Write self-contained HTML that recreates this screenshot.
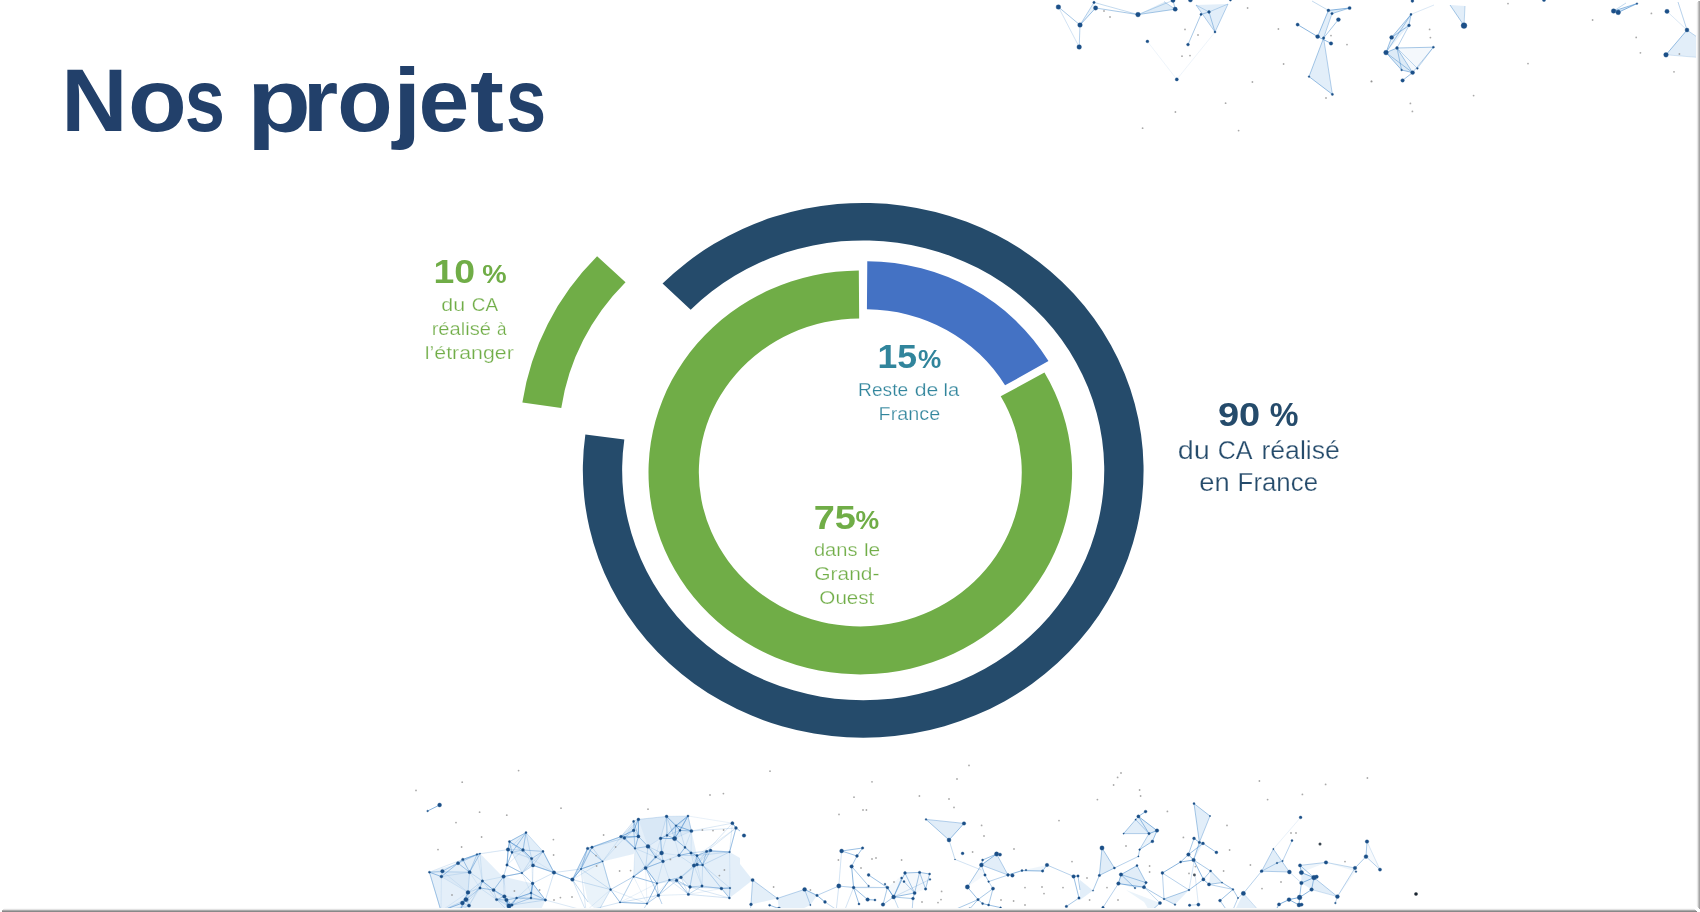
<!DOCTYPE html>
<html lang="fr"><head><meta charset="utf-8"><title>Nos projets</title>
<style>
html,body{margin:0;padding:0;background:#fff;}
body{width:1700px;height:912px;overflow:hidden;position:relative;font-family:"Liberation Sans",sans-serif;}
svg{position:absolute;left:0;top:0;display:block;will-change:transform;}
svg text{font-family:"Liberation Sans",sans-serif;}
</style></head>
<body>
<svg width="1700" height="912" viewBox="0 0 1700 912">
<rect width="1700" height="912" fill="#fff"/>
<g id="plexus">
<polygon points="1138.0,14.6 1175.2,9.2 1164.0,2.0" fill="#8FBDE6" fill-opacity="0.30"/>
<polygon points="1196.0,5.0 1228.0,4.0 1215.0,32.0" fill="#8FBDE6" fill-opacity="0.26"/>
<polygon points="1323.6,38.0 1309.0,76.6 1332.4,94.4" fill="#8FBDE6" fill-opacity="0.26"/>
<polygon points="1317.6,36.6 1328.4,10.4 1332.0,13.6 1323.6,38.0" fill="#8FBDE6" fill-opacity="0.26"/>
<polygon points="1080.0,25.0 1095.6,8.0 1094.0,2.4" fill="#8FBDE6" fill-opacity="0.17"/>
<polygon points="1328.4,10.4 1349.6,8.0 1332.0,13.6" fill="#8FBDE6" fill-opacity="0.30"/>
<path d="M1147.4 41.4L1176.8 79.4M1215.0 32.0L1176.8 79.4" stroke="#3F86C9" stroke-opacity="0.1" stroke-width="0.9" fill="none"/>
<path d="M1058.4 7.0L1079.2 47.0" stroke="#3F86C9" stroke-opacity="0.26" stroke-width="0.9" fill="none"/>
<path d="M1094.0 2.4L1138.0 14.6M1138.0 14.6L1173.0 0.4M1196.0 5.0L1209.0 12.0M1209.0 12.0L1228.0 4.0M1328.4 10.4L1312.0 1.0" stroke="#3F86C9" stroke-opacity="0.34" stroke-width="0.9" fill="none"/>
<path d="M1080.0 25.0L1079.2 47.0M1080.0 25.0L1094.0 2.4M1175.2 9.2L1164.0 1.6M1196.0 5.0L1215.0 32.0M1228.0 4.0L1215.0 32.0M1323.6 38.0L1332.4 94.4M1323.6 38.0L1332.0 13.6" stroke="#3F86C9" stroke-opacity="0.42" stroke-width="0.9" fill="none"/>
<path d="M1058.4 7.0L1080.0 25.0M1095.6 8.0L1138.0 14.6M1138.0 14.6L1175.2 9.2M1175.2 9.2L1173.0 0.4M1201.0 14.4L1188.0 44.6M1201.0 14.4L1209.0 12.0M1209.0 12.0L1215.0 32.0M1323.6 38.0L1338.4 19.6M1332.0 13.6L1349.6 8.0M1323.6 38.0L1309.0 76.6" stroke="#3F86C9" stroke-opacity="0.51" stroke-width="0.9" fill="none"/>
<path d="M1080.0 25.0L1095.6 8.0M1317.6 36.6L1328.4 10.4M1309.0 76.6L1332.4 94.4" stroke="#3F86C9" stroke-opacity="0.59" stroke-width="0.9" fill="none"/>
<path d="M1297.6 24.6L1317.6 36.6M1317.6 36.6L1331.0 43.4M1328.4 10.4L1349.6 8.0" stroke="#3F86C9" stroke-opacity="0.68" stroke-width="0.9" fill="none"/>
<circle cx="1104.0" cy="11.0" r="0.9" fill="#8C8C8C" fill-opacity=".75"/>
<circle cx="1110.0" cy="17.0" r="0.9" fill="#8C8C8C" fill-opacity=".75"/>
<circle cx="1185.0" cy="29.4" r="0.9" fill="#8C8C8C" fill-opacity=".75"/>
<circle cx="1198.0" cy="35.0" r="0.9" fill="#8C8C8C" fill-opacity=".75"/>
<circle cx="1182.0" cy="56.2" r="0.9" fill="#8C8C8C" fill-opacity=".75"/>
<circle cx="1190.0" cy="55.6" r="0.9" fill="#8C8C8C" fill-opacity=".75"/>
<circle cx="1247.6" cy="8.0" r="0.9" fill="#8C8C8C" fill-opacity=".75"/>
<circle cx="1278.4" cy="29.0" r="0.9" fill="#8C8C8C" fill-opacity=".75"/>
<circle cx="1283.6" cy="64.0" r="0.9" fill="#8C8C8C" fill-opacity=".75"/>
<circle cx="1225.6" cy="103.2" r="0.9" fill="#8C8C8C" fill-opacity=".75"/>
<circle cx="1175.4" cy="112.0" r="0.9" fill="#8C8C8C" fill-opacity=".75"/>
<circle cx="1142.6" cy="128.2" r="0.9" fill="#8C8C8C" fill-opacity=".75"/>
<circle cx="1238.6" cy="130.6" r="0.9" fill="#8C8C8C" fill-opacity=".75"/>
<circle cx="1371.6" cy="81.4" r="0.9" fill="#8C8C8C" fill-opacity=".75"/>
<circle cx="1347.0" cy="44.6" r="0.9" fill="#8C8C8C" fill-opacity=".75"/>
<circle cx="1331.0" cy="35.6" r="0.9" fill="#8C8C8C" fill-opacity=".75"/>
<circle cx="1326.0" cy="98.0" r="0.9" fill="#8C8C8C" fill-opacity=".75"/>
<circle cx="1252.4" cy="82.0" r="0.9" fill="#8C8C8C" fill-opacity=".75"/>
<circle cx="1058.4" cy="7.0" r="2.33" fill="#1B4F88" stroke="#1B4F88" stroke-opacity=".35" stroke-width="1"/>
<circle cx="1080.0" cy="25.0" r="2.33" fill="#1B4F88" stroke="#1B4F88" stroke-opacity=".35" stroke-width="1"/>
<circle cx="1079.2" cy="47.0" r="2.33" fill="#1B4F88" stroke="#1B4F88" stroke-opacity=".35" stroke-width="1"/>
<circle cx="1095.6" cy="8.0" r="2.14" fill="#1B4F88" stroke="#1B4F88" stroke-opacity=".35" stroke-width="1"/>
<circle cx="1094.0" cy="2.4" r="1.22" fill="#1B4F88" stroke="#1B4F88" stroke-opacity=".35" stroke-width="1"/>
<circle cx="1138.0" cy="14.6" r="2.33" fill="#1B4F88" stroke="#1B4F88" stroke-opacity=".35" stroke-width="1"/>
<circle cx="1175.2" cy="9.2" r="2.14" fill="#1B4F88" stroke="#1B4F88" stroke-opacity=".35" stroke-width="1"/>
<circle cx="1173.0" cy="0.4" r="2.05" fill="#1B4F88" stroke="#1B4F88" stroke-opacity=".35" stroke-width="1"/>
<circle cx="1190.4" cy="0.0" r="2.05" fill="#1B4F88" stroke="#1B4F88" stroke-opacity=".35" stroke-width="1"/>
<circle cx="1147.4" cy="41.4" r="1.41" fill="#1B4F88" stroke="#1B4F88" stroke-opacity=".35" stroke-width="1"/>
<circle cx="1188.0" cy="44.6" r="1.41" fill="#1B4F88" stroke="#1B4F88" stroke-opacity=".35" stroke-width="1"/>
<circle cx="1176.8" cy="79.4" r="1.59" fill="#1B4F88" stroke="#1B4F88" stroke-opacity=".35" stroke-width="1"/>
<circle cx="1201.0" cy="14.4" r="1.13" fill="#1B4F88" stroke="#1B4F88" stroke-opacity=".35" stroke-width="1"/>
<circle cx="1209.0" cy="12.0" r="1.41" fill="#1B4F88" stroke="#1B4F88" stroke-opacity=".35" stroke-width="1"/>
<circle cx="1215.0" cy="32.0" r="1.04" fill="#1B4F88" stroke="#1B4F88" stroke-opacity=".35" stroke-width="1"/>
<circle cx="1230.4" cy="0.0" r="1.13" fill="#1B4F88" stroke="#1B4F88" stroke-opacity=".35" stroke-width="1"/>
<circle cx="1297.6" cy="24.6" r="1.59" fill="#1B4F88" stroke="#1B4F88" stroke-opacity=".35" stroke-width="1"/>
<circle cx="1317.6" cy="36.6" r="1.96" fill="#1B4F88" stroke="#1B4F88" stroke-opacity=".35" stroke-width="1"/>
<circle cx="1323.6" cy="38.0" r="1.22" fill="#1B4F88" stroke="#1B4F88" stroke-opacity=".35" stroke-width="1"/>
<circle cx="1331.0" cy="43.4" r="1.77" fill="#1B4F88" stroke="#1B4F88" stroke-opacity=".35" stroke-width="1"/>
<circle cx="1338.4" cy="19.6" r="1.96" fill="#1B4F88" stroke="#1B4F88" stroke-opacity=".35" stroke-width="1"/>
<circle cx="1328.4" cy="10.4" r="1.41" fill="#1B4F88" stroke="#1B4F88" stroke-opacity=".35" stroke-width="1"/>
<circle cx="1332.0" cy="13.6" r="1.22" fill="#1B4F88" stroke="#1B4F88" stroke-opacity=".35" stroke-width="1"/>
<circle cx="1349.6" cy="8.0" r="1.59" fill="#1B4F88" stroke="#1B4F88" stroke-opacity=".35" stroke-width="1"/>
<circle cx="1309.0" cy="76.6" r="0.85" fill="#1B4F88" stroke="#1B4F88" stroke-opacity=".35" stroke-width="1"/>
<circle cx="1332.4" cy="94.4" r="1.13" fill="#1B4F88" stroke="#1B4F88" stroke-opacity=".35" stroke-width="1"/>
<polygon points="1386.0,52.6 1397.0,48.0 1412.6,72.6 1401.6,70.0" fill="#8FBDE6" fill-opacity="0.30"/>
<polygon points="1411.0,14.4 1391.6,37.4 1386.0,52.6 1409.0,25.4" fill="#8FBDE6" fill-opacity="0.21"/>
<polygon points="1464.0,25.6 1450.0,5.0 1465.0,6.0" fill="#8FBDE6" fill-opacity="0.26"/>
<polygon points="1613.6,11.0 1637.0,3.6 1618.2,12.4" fill="#8FBDE6" fill-opacity="0.34"/>
<polygon points="1687.0,30.0 1666.0,54.8 1700.0,57.6 1700.0,39.0" fill="#8FBDE6" fill-opacity="0.26"/>
<polygon points="1397.0,48.0 1433.4,47.2 1412.6,72.6" fill="#8FBDE6" fill-opacity="0.10"/>
<path d="M1411.0 14.4L1434.0 5.0M1667.0 11.4L1687.0 30.0M1666.0 54.8L1700.0 57.6" stroke="#3F86C9" stroke-opacity="0.21" stroke-width="0.9" fill="none"/>
<path d="M1433.4 47.2L1417.4 68.4M1397.0 48.0L1417.4 68.4M1464.0 25.6L1465.0 6.0M1613.6 11.0L1626.0 3.0M1687.0 30.0L1700.0 39.0" stroke="#3F86C9" stroke-opacity="0.34" stroke-width="0.9" fill="none"/>
<path d="M1409.0 25.4L1397.0 48.0M1433.4 47.2L1412.6 72.6M1678.0 2.0L1687.0 30.0" stroke="#3F86C9" stroke-opacity="0.42" stroke-width="0.9" fill="none"/>
<path d="M1411.0 14.4L1386.0 52.6M1397.0 48.0L1433.4 47.2M1397.0 48.0L1412.6 72.6M1386.0 52.6L1412.6 72.6M1397.0 48.0L1401.6 70.0M1411.0 14.4L1409.0 25.4M1464.0 25.6L1450.0 5.0" stroke="#3F86C9" stroke-opacity="0.51" stroke-width="0.9" fill="none"/>
<path d="M1411.0 14.4L1391.6 37.4M1409.0 25.4L1391.6 37.4M1391.6 37.4L1386.0 52.6M1386.0 52.6L1401.6 70.0M1401.6 70.0L1412.6 72.6M1412.6 72.6L1402.6 80.4M1386.0 52.6L1397.0 48.0M1613.6 11.0L1637.0 3.6M1687.0 30.0L1666.0 54.8" stroke="#3F86C9" stroke-opacity="0.59" stroke-width="0.9" fill="none"/>
<path d="M1618.2 12.4L1637.0 3.6" stroke="#3F86C9" stroke-opacity="0.68" stroke-width="0.9" fill="none"/>
<circle cx="1429.6" cy="29.4" r="0.9" fill="#8C8C8C" fill-opacity=".75"/>
<circle cx="1430.4" cy="37.6" r="0.9" fill="#8C8C8C" fill-opacity=".75"/>
<circle cx="1371.4" cy="81.4" r="0.9" fill="#8C8C8C" fill-opacity=".75"/>
<circle cx="1473.6" cy="95.6" r="0.9" fill="#8C8C8C" fill-opacity=".75"/>
<circle cx="1410.4" cy="103.4" r="0.9" fill="#8C8C8C" fill-opacity=".75"/>
<circle cx="1412.4" cy="111.4" r="0.9" fill="#8C8C8C" fill-opacity=".75"/>
<circle cx="1528.0" cy="63.6" r="0.9" fill="#8C8C8C" fill-opacity=".75"/>
<circle cx="1508.0" cy="3.6" r="0.9" fill="#8C8C8C" fill-opacity=".75"/>
<circle cx="1592.6" cy="20.0" r="0.9" fill="#8C8C8C" fill-opacity=".75"/>
<circle cx="1651.4" cy="13.4" r="0.9" fill="#8C8C8C" fill-opacity=".75"/>
<circle cx="1636.2" cy="37.4" r="0.9" fill="#8C8C8C" fill-opacity=".75"/>
<circle cx="1640.4" cy="52.8" r="0.9" fill="#8C8C8C" fill-opacity=".75"/>
<circle cx="1674.0" cy="71.8" r="0.9" fill="#8C8C8C" fill-opacity=".75"/>
<circle cx="1679.4" cy="54.0" r="0.9" fill="#8C8C8C" fill-opacity=".75"/>
<circle cx="1412.4" cy="1.0" r="1.41" fill="#1B4F88" stroke="#1B4F88" stroke-opacity=".35" stroke-width="1"/>
<circle cx="1411.0" cy="14.4" r="1.04" fill="#1B4F88" stroke="#1B4F88" stroke-opacity=".35" stroke-width="1"/>
<circle cx="1409.0" cy="25.4" r="1.41" fill="#1B4F88" stroke="#1B4F88" stroke-opacity=".35" stroke-width="1"/>
<circle cx="1391.6" cy="37.4" r="1.96" fill="#1B4F88" stroke="#1B4F88" stroke-opacity=".35" stroke-width="1"/>
<circle cx="1397.0" cy="48.0" r="1.41" fill="#1B4F88" stroke="#1B4F88" stroke-opacity=".35" stroke-width="1"/>
<circle cx="1386.0" cy="52.6" r="2.33" fill="#1B4F88" stroke="#1B4F88" stroke-opacity=".35" stroke-width="1"/>
<circle cx="1433.4" cy="47.2" r="1.04" fill="#1B4F88" stroke="#1B4F88" stroke-opacity=".35" stroke-width="1"/>
<circle cx="1412.6" cy="72.6" r="1.96" fill="#1B4F88" stroke="#1B4F88" stroke-opacity=".35" stroke-width="1"/>
<circle cx="1417.4" cy="68.4" r="0.85" fill="#1B4F88" stroke="#1B4F88" stroke-opacity=".35" stroke-width="1"/>
<circle cx="1401.6" cy="70.0" r="0.85" fill="#1B4F88" stroke="#1B4F88" stroke-opacity=".35" stroke-width="1"/>
<circle cx="1402.6" cy="80.4" r="1.77" fill="#1B4F88" stroke="#1B4F88" stroke-opacity=".35" stroke-width="1"/>
<circle cx="1464.0" cy="25.6" r="2.88" fill="#1B4F88" stroke="#1B4F88" stroke-opacity=".35" stroke-width="1"/>
<circle cx="1613.6" cy="11.0" r="2.33" fill="#1B4F88" stroke="#1B4F88" stroke-opacity=".35" stroke-width="1"/>
<circle cx="1618.2" cy="12.4" r="2.33" fill="#1B4F88" stroke="#1B4F88" stroke-opacity=".35" stroke-width="1"/>
<circle cx="1637.0" cy="3.6" r="0.85" fill="#1B4F88" stroke="#1B4F88" stroke-opacity=".35" stroke-width="1"/>
<circle cx="1667.0" cy="11.4" r="2.14" fill="#1B4F88" stroke="#1B4F88" stroke-opacity=".35" stroke-width="1"/>
<circle cx="1687.0" cy="30.0" r="1.96" fill="#1B4F88" stroke="#1B4F88" stroke-opacity=".35" stroke-width="1"/>
<circle cx="1666.0" cy="54.8" r="2.33" fill="#1B4F88" stroke="#1B4F88" stroke-opacity=".35" stroke-width="1"/>
<circle cx="1544.0" cy="0.0" r="1.59" fill="#1B4F88" stroke="#1B4F88" stroke-opacity=".35" stroke-width="1"/>
<polygon points="429.4,872.2 458.0,863.2 462.8,859.4 477.0,854.4 480.0,853.6 500.0,874.0 503.6,876.6 504.4,896.4 509.0,906.0 508.0,912.0 441.0,912.0" fill="#8FBDE6" fill-opacity="0.24"/>
<polygon points="509.4,841.6 526.0,832.6 543.0,851.4 554.0,872.6 533.0,865.4 522.0,873.0 512.0,852.4 508.0,849.6" fill="#8FBDE6" fill-opacity="0.26"/>
<polygon points="587.6,848.4 592.0,847.2 621.0,836.6 635.0,848.4 633.6,854.0 602.6,861.4 581.0,869.0 572.4,879.6" fill="#8FBDE6" fill-opacity="0.24"/>
<polygon points="581.0,869.0 602.6,861.4 610.6,889.6 598.0,912.0 588.0,902.0" fill="#8FBDE6" fill-opacity="0.19"/>
<polygon points="621.0,836.6 638.4,819.4 666.6,816.4 688.0,816.0 691.4,831.0 697.0,855.6 710.6,850.4 729.6,852.0 740.0,858.0 740.0,890.0 729.4,898.0 721.4,888.6 702.0,886.0 690.0,887.0 681.0,877.4 657.0,883.4 645.6,868.0 633.6,876.6 635.0,848.4" fill="#8FBDE6" fill-opacity="0.24"/>
<polygon points="503.6,876.6 532.6,883.4 545.4,900.0 540.0,912.0 509.0,912.0" fill="#8FBDE6" fill-opacity="0.24"/>
<polygon points="638.4,819.4 666.6,816.4 660.6,838.4 648.0,846.4" fill="#8FBDE6" fill-opacity="0.13"/>
<polygon points="666.6,816.4 688.0,816.0 691.4,831.0 674.6,838.6" fill="#8FBDE6" fill-opacity="0.13"/>
<polygon points="442.4,871.2 469.6,872.2 468.0,892.4 441.4,876.6" fill="#8FBDE6" fill-opacity="0.10"/>
<path d="M442.4 871.2L462.8 859.4M442.4 871.2L469.6 872.2M442.4 871.2L468.0 892.4M441.4 876.6L462.8 859.4M441.4 876.6L468.0 892.4M441.4 876.6L441.0 911.0M462.8 859.4L480.0 853.6M469.6 872.2L480.0 888.0M477.0 854.4L482.4 881.0M477.0 854.4L508.0 849.6M480.0 853.6L508.0 849.6M482.4 881.0L466.0 899.6M482.4 881.0L493.6 890.0M480.0 888.0L469.0 905.6M468.0 892.4L462.4 903.0M468.0 892.4L441.0 911.0M466.0 899.6L460.0 910.0M462.4 903.0L441.0 911.0M504.4 896.4L512.0 905.0M496.6 899.6L512.0 905.0M509.0 906.0L516.6 898.0M516.6 898.0L512.0 905.0M522.0 873.0L531.0 893.0M532.6 883.4L545.4 900.0M532.6 883.4L531.6 858.6M531.0 893.0L545.4 900.0M531.0 893.0L512.0 905.0M509.4 841.6L526.0 832.6M508.0 849.6L531.6 858.6M512.0 852.4L531.6 858.6M531.6 858.6L554.0 872.6M592.0 847.2L624.4 838.0M610.6 889.6L586.0 911.0M624.4 838.0L633.6 821.4M638.4 819.4L633.6 830.4M648.0 846.4L660.6 838.4M635.0 848.4L633.6 876.6M645.6 868.0L655.6 857.0M645.6 868.0L647.0 903.6M633.6 876.6L620.0 902.4M633.6 876.6L647.0 903.6M655.6 857.0L660.6 838.4M661.6 853.0L679.0 855.4M660.6 838.4L674.6 838.6M660.6 838.4L676.0 825.6M674.6 838.6L691.4 831.0M674.6 838.6L679.0 855.4M688.0 816.0L732.4 823.2M691.4 831.0L691.0 853.0M663.0 861.4L669.4 880.0M691.0 853.0L697.0 864.6M691.0 853.0L706.6 851.4M697.0 864.6L702.0 886.0M702.6 865.0L706.6 851.4M710.6 850.4L729.6 852.0M729.6 852.0L730.0 888.0M669.4 880.0L658.4 895.4M669.4 880.0L647.0 903.6M657.0 883.4L620.0 902.4M688.4 894.4L721.4 888.6" stroke="#3F86C9" stroke-opacity="0.13" stroke-width="0.9" fill="none"/>
<path d="M429.4 872.2L469.6 872.2M441.4 876.6L469.6 872.2M469.6 872.2L477.0 854.4M480.0 853.6L482.4 881.0M482.4 881.0L469.0 905.6M482.4 881.0L503.6 876.6M480.0 888.0L462.4 903.0M480.0 888.0L496.6 899.6M468.0 892.4L469.0 905.6M469.0 905.6L441.0 911.0M504.4 896.4L509.0 906.0M504.4 896.4L516.6 898.0M504.4 896.4L508.0 911.0M516.6 898.0L532.6 883.4M516.6 898.0L531.0 898.0M508.0 849.6L526.0 832.6M512.0 852.4L507.0 865.0M523.0 850.0L533.0 865.4M523.0 850.0L507.0 865.0M533.0 865.4L554.0 872.6M572.4 879.6L602.6 861.4M587.6 848.4L624.4 838.0M592.0 847.2L621.0 836.6M602.6 861.4L610.6 889.6M602.6 861.4L621.0 836.6M602.6 861.4L624.4 838.0M610.6 889.6L647.0 903.6M621.0 836.6L638.4 819.4M624.4 838.0L638.4 819.4M633.6 821.4L635.0 848.4M635.0 848.4L655.6 857.0M645.6 868.0L661.6 853.0M645.6 868.0L657.0 883.4M661.6 853.0L667.0 835.4M666.6 816.4L667.0 835.4M666.6 816.4L688.0 816.0M691.4 831.0L685.0 847.4M679.0 855.4L694.0 865.6M663.0 861.4L657.0 883.4M691.0 853.0L694.0 865.6M697.0 855.6L706.6 851.4M697.0 855.6L736.0 828.0M694.0 865.6L681.0 877.4M694.0 865.6L676.6 880.4M694.0 865.6L690.0 887.0M694.0 865.6L702.0 886.0M697.0 864.6L706.6 851.4M702.6 865.0L721.4 888.6M729.6 852.0L732.4 823.2M681.0 877.4L658.4 895.4M676.6 880.4L657.0 883.4M676.6 880.4L690.0 887.0M658.4 895.4L688.4 894.4M690.0 887.0L721.4 888.6" stroke="#3F86C9" stroke-opacity="0.17" stroke-width="0.9" fill="none"/>
<path d="M429.4 872.2L462.8 859.4M441.4 876.6L458.0 863.2M482.4 881.0L496.6 899.6M480.0 888.0L460.0 910.0M468.0 892.4L460.0 910.0M493.6 890.0L504.4 896.4M503.6 876.6L506.4 900.0M503.6 876.6L522.0 873.0M506.4 900.0L496.6 899.6M506.4 900.0L508.0 911.0M496.6 899.6L508.0 911.0M516.6 898.0L531.0 893.0M522.0 873.0L512.0 852.4M522.0 873.0L543.0 851.4M522.0 873.0L531.6 858.6M532.6 883.4L533.0 865.4M531.0 898.0L512.0 905.0M545.4 900.0L586.0 911.0M509.4 841.6L523.0 850.0M509.4 841.6L507.0 865.0M523.0 850.0L526.0 832.6M572.4 879.6L592.0 847.2M581.0 869.0L592.0 847.2M581.0 869.0L586.0 911.0M621.0 836.6L633.6 830.4M621.0 836.6L635.0 848.4M624.4 838.0L635.0 848.4M633.6 821.4L638.4 836.4M633.6 876.6L655.6 857.0M660.6 838.4L666.6 816.4M667.0 835.4L676.0 825.6M667.0 835.4L680.0 830.4M667.0 835.4L688.0 816.0M680.0 830.4L685.0 847.4M691.4 831.0L732.4 823.2M691.4 831.0L736.0 828.0M685.0 847.4L697.0 855.6M691.0 853.0L702.6 865.0M691.0 853.0L710.6 850.4M697.0 855.6L702.6 865.0M697.0 855.6L729.6 852.0M694.0 865.6L706.6 851.4M697.0 864.6L681.0 877.4M702.6 865.0L710.6 850.4M702.6 865.0L702.0 886.0M702.6 865.0L730.0 888.0M706.6 851.4L732.4 823.2M706.6 851.4L736.0 828.0M676.6 880.4L658.4 895.4M669.4 880.0L688.4 894.4M690.0 887.0L729.4 898.0" stroke="#3F86C9" stroke-opacity="0.21" stroke-width="0.9" fill="none"/>
<path d="M572.4 879.6L610.6 889.6M610.6 889.6L598.0 912.0M442.4 871.2L441.4 876.6M441.4 876.6L458.0 863.2M469.6 872.2L477.0 854.4M469.6 872.2L482.4 881.0M480.0 888.0L468.0 892.4M466.0 899.6L469.0 905.6M466.0 899.6L441.0 911.0M462.4 903.0L469.0 905.6M462.4 903.0L460.0 910.0M469.0 905.6L460.0 910.0M493.6 890.0L496.6 899.6M509.0 906.0L508.0 911.0M516.6 898.0L531.0 898.0M522.0 873.0L533.0 865.4M508.0 849.6L523.0 850.0M543.0 851.4L533.0 865.4M533.0 865.4L554.0 872.6M587.6 848.4L592.0 847.2M592.0 847.2L602.6 861.4M633.6 821.4L633.6 830.4M655.6 857.0L661.6 853.0M666.6 816.4L680.0 830.4M679.0 855.4L663.0 861.4M697.0 855.6L706.6 851.4M702.6 865.0L710.6 850.4M710.6 850.4L729.6 852.0M729.6 852.0L736.0 828.0M732.4 823.2L736.0 828.0M681.0 877.4L676.6 880.4M681.0 877.4L690.0 887.0M669.4 880.0L657.0 883.4M690.0 887.0L688.4 894.4M429.4 872.2L441.0 911.0M458.0 863.2L477.0 854.4M458.0 863.2L480.0 853.6M469.6 872.2L468.0 892.4M482.4 881.0L468.0 892.4M480.0 888.0L466.0 899.6M460.0 910.0L441.0 911.0M493.6 890.0L503.6 876.6M493.6 890.0L506.4 900.0M503.6 876.6L504.4 896.4M506.4 900.0L516.6 898.0M496.6 899.6L509.0 906.0M509.0 906.0L531.0 898.0M516.6 898.0L545.4 900.0M516.6 898.0L508.0 911.0M522.0 873.0L507.0 865.0M532.6 883.4L531.0 898.0M532.6 883.4L554.0 872.6M545.4 900.0L554.0 872.6M545.4 900.0L512.0 905.0M509.4 841.6L531.6 858.6M508.0 849.6L507.0 865.0M526.0 832.6L543.0 851.4M526.0 832.6L531.6 858.6M543.0 851.4L554.0 872.6M554.0 872.6L581.0 869.0M572.4 879.6L587.6 848.4M572.4 879.6L586.0 911.0M581.0 869.0L610.6 889.6M587.6 848.4L621.0 836.6M621.0 836.6L633.6 821.4M624.4 838.0L638.4 836.4M638.4 819.4L638.4 836.4M638.4 819.4L666.6 816.4M633.6 830.4L635.0 848.4M648.0 846.4L645.6 868.0M648.0 846.4L661.6 853.0M648.0 846.4L663.0 861.4M635.0 848.4L645.6 868.0M645.6 868.0L663.0 861.4M666.6 816.4L674.6 838.6M674.6 838.6L688.0 816.0M674.6 838.6L685.0 847.4M676.0 825.6L688.0 816.0M676.0 825.6L691.4 831.0M680.0 830.4L688.0 816.0M679.0 855.4L697.0 855.6M694.0 865.6L688.4 894.4M697.0 864.6L710.6 850.4M702.6 865.0L729.6 852.0M702.6 865.0L729.4 898.0M681.0 877.4L688.4 894.4M676.6 880.4L688.4 894.4M669.4 880.0L690.0 887.0M657.0 883.4L647.0 903.6M658.4 895.4L620.0 902.4M690.0 887.0L730.0 888.0M688.4 894.4L729.4 898.0M620.0 902.4L586.0 911.0" stroke="#3F86C9" stroke-opacity="0.26" stroke-width="0.9" fill="none"/>
<path d="M572.4 879.6L588.0 902.0M581.0 869.0L602.6 861.4M602.6 861.4L610.6 889.6M592.0 847.2L621.0 836.6M633.6 876.6L620.0 902.4M620.0 902.4L647.0 903.6M633.6 876.6L645.6 868.0M647.0 903.6L642.0 912.0M429.4 872.2L441.0 911.0M429.4 872.2L442.4 871.2M462.8 859.4L480.0 853.6M468.0 892.4L462.4 903.0M493.6 890.0L503.6 876.6M503.6 876.6L507.0 865.0M506.4 900.0L496.6 899.6M506.4 900.0L516.6 898.0M506.4 900.0L508.0 911.0M516.6 898.0L512.0 905.0M531.0 893.0L531.0 898.0M512.0 852.4L523.0 850.0M523.0 850.0L526.0 832.6M554.0 872.6L572.4 879.6M624.4 838.0L633.6 830.4M624.4 838.0L638.4 836.4M633.6 821.4L638.4 819.4M633.6 821.4L638.4 836.4M633.6 830.4L638.4 836.4M661.6 853.0L663.0 861.4M666.6 816.4L667.0 835.4M674.6 838.6L685.0 847.4M697.0 855.6L710.6 850.4M694.0 865.6L697.0 864.6M702.6 865.0L706.6 851.4M676.6 880.4L690.0 887.0M657.0 883.4L658.4 895.4M690.0 887.0L702.0 886.0M688.4 894.4L702.0 886.0M721.4 888.6L729.4 898.0" stroke="#3F86C9" stroke-opacity="0.34" stroke-width="0.9" fill="none"/>
<path d="M736.0 828.0L729.6 852.0M533.0 865.4L554.0 872.6M572.4 879.6L587.6 848.4M572.4 879.6L581.0 869.0M658.4 895.4L662.0 904.0M442.4 871.2L458.0 863.2M468.0 892.4L466.0 899.6M466.0 899.6L460.0 910.0M506.4 900.0L509.0 906.0M509.0 906.0L516.6 898.0M522.0 873.0L532.6 883.4M522.0 873.0L507.0 865.0M531.0 893.0L545.4 900.0M531.0 898.0L545.4 900.0M523.0 850.0L543.0 851.4M543.0 851.4L531.6 858.6M581.0 869.0L592.0 847.2M610.6 889.6L633.6 876.6M648.0 846.4L635.0 848.4M645.6 868.0L633.6 876.6M645.6 868.0L663.0 861.4M667.0 835.4L676.0 825.6M680.0 830.4L688.0 816.0M688.0 816.0L691.4 831.0M697.0 855.6L694.0 865.6M706.6 851.4L729.6 852.0M676.6 880.4L669.4 880.0M676.6 880.4L688.4 894.4M657.0 883.4L647.0 903.6M658.4 895.4L647.0 903.6M702.0 886.0L721.4 888.6M730.0 888.0L729.4 898.0M620.0 902.4L647.0 903.6" stroke="#3F86C9" stroke-opacity="0.42" stroke-width="0.9" fill="none"/>
<path d="M554.0 872.6L572.4 879.6M645.6 868.0L658.4 895.4M458.0 863.2L462.8 859.4M458.0 863.2L469.6 872.2M462.8 859.4L469.6 872.2M462.8 859.4L477.0 854.4M469.6 872.2L480.0 853.6M477.0 854.4L480.0 853.6M482.4 881.0L480.0 888.0M480.0 888.0L493.6 890.0M460.0 910.0L441.0 911.0M493.6 890.0L504.4 896.4M504.4 896.4L506.4 900.0M504.4 896.4L496.6 899.6M506.4 900.0L512.0 905.0M509.0 906.0L512.0 905.0M532.6 883.4L531.0 898.0M509.4 841.6L512.0 852.4M509.4 841.6L526.0 832.6M508.0 849.6L507.0 865.0M512.0 852.4L526.0 832.6M512.0 852.4L507.0 865.0M543.0 851.4L554.0 872.6M581.0 869.0L587.6 848.4M581.0 869.0L602.6 861.4M587.6 848.4L602.6 861.4M621.0 836.6L638.4 836.4M638.4 836.4L648.0 846.4M645.6 868.0L655.6 857.0M655.6 857.0L663.0 861.4M666.6 816.4L676.0 825.6M667.0 835.4L674.6 838.6M676.0 825.6L688.0 816.0M676.0 825.6L691.4 831.0M680.0 830.4L691.4 831.0M697.0 855.6L697.0 864.6M681.0 877.4L669.4 880.0M508.0 911.0L512.0 905.0" stroke="#3F86C9" stroke-opacity="0.51" stroke-width="0.9" fill="none"/>
<path d="M736.0 828.0L740.0 831.0M429.4 872.2L441.4 876.6M482.4 881.0L493.6 890.0M466.0 899.6L462.4 903.0M462.4 903.0L441.0 911.0M503.6 876.6L522.0 873.0M504.4 896.4L509.0 906.0M516.6 898.0L531.0 893.0M532.6 883.4L531.0 893.0M532.6 883.4L545.4 900.0M509.4 841.6L508.0 849.6M509.4 841.6L523.0 850.0M508.0 849.6L512.0 852.4M523.0 850.0L531.6 858.6M531.6 858.6L533.0 865.4M572.4 879.6L581.0 869.0M610.6 889.6L620.0 902.4M621.0 836.6L624.4 838.0M621.0 836.6L633.6 830.4M624.4 838.0L635.0 848.4M638.4 819.4L633.6 830.4M638.4 819.4L638.4 836.4M638.4 836.4L635.0 848.4M648.0 846.4L655.6 857.0M645.6 868.0L657.0 883.4M633.6 876.6L657.0 883.4M661.6 853.0L660.6 838.4M660.6 838.4L667.0 835.4M660.6 838.4L674.6 838.6M674.6 838.6L676.0 825.6M674.6 838.6L680.0 830.4M676.0 825.6L680.0 830.4M679.0 855.4L685.0 847.4M679.0 855.4L691.0 853.0M685.0 847.4L691.0 853.0M691.0 853.0L697.0 855.6M697.0 855.6L702.6 865.0M694.0 865.6L702.6 865.0M697.0 864.6L702.6 865.0M706.6 851.4L710.6 850.4M669.4 880.0L658.4 895.4M721.4 888.6L730.0 888.0" stroke="#3F86C9" stroke-opacity="0.59" stroke-width="0.9" fill="none"/>
<path d="M439.6 805.0L427.6 811.0M732.4 823.2L736.0 828.0" stroke="#3F86C9" stroke-opacity="0.68" stroke-width="0.9" fill="none"/>
<circle cx="518.6" cy="770.6" r="0.9" fill="#8C8C8C" fill-opacity=".75"/>
<circle cx="462.2" cy="782.2" r="0.9" fill="#8C8C8C" fill-opacity=".75"/>
<circle cx="416.0" cy="790.4" r="0.9" fill="#8C8C8C" fill-opacity=".75"/>
<circle cx="479.6" cy="812.2" r="0.9" fill="#8C8C8C" fill-opacity=".75"/>
<circle cx="506.8" cy="815.2" r="0.9" fill="#8C8C8C" fill-opacity=".75"/>
<circle cx="456.0" cy="822.6" r="0.9" fill="#8C8C8C" fill-opacity=".75"/>
<circle cx="561.0" cy="808.2" r="0.9" fill="#8C8C8C" fill-opacity=".75"/>
<circle cx="553.4" cy="839.6" r="0.9" fill="#8C8C8C" fill-opacity=".75"/>
<circle cx="553.6" cy="855.0" r="0.9" fill="#8C8C8C" fill-opacity=".75"/>
<circle cx="481.6" cy="837.0" r="0.9" fill="#8C8C8C" fill-opacity=".75"/>
<circle cx="438.0" cy="849.6" r="0.9" fill="#8C8C8C" fill-opacity=".75"/>
<circle cx="461.6" cy="847.0" r="0.9" fill="#8C8C8C" fill-opacity=".75"/>
<circle cx="710.0" cy="795.0" r="0.9" fill="#8C8C8C" fill-opacity=".75"/>
<circle cx="723.4" cy="793.6" r="0.9" fill="#8C8C8C" fill-opacity=".75"/>
<circle cx="648.0" cy="809.2" r="0.9" fill="#8C8C8C" fill-opacity=".75"/>
<circle cx="723.6" cy="830.0" r="0.9" fill="#8C8C8C" fill-opacity=".75"/>
<circle cx="713.0" cy="830.6" r="0.9" fill="#8C8C8C" fill-opacity=".75"/>
<circle cx="702.4" cy="830.0" r="0.9" fill="#8C8C8C" fill-opacity=".75"/>
<circle cx="603.6" cy="835.0" r="0.9" fill="#8C8C8C" fill-opacity=".75"/>
<circle cx="619.6" cy="871.0" r="0.9" fill="#8C8C8C" fill-opacity=".75"/>
<circle cx="630.6" cy="870.6" r="0.9" fill="#8C8C8C" fill-opacity=".75"/>
<circle cx="596.6" cy="866.0" r="0.9" fill="#8C8C8C" fill-opacity=".75"/>
<circle cx="560.4" cy="897.6" r="0.9" fill="#8C8C8C" fill-opacity=".75"/>
<circle cx="539.6" cy="890.0" r="0.9" fill="#8C8C8C" fill-opacity=".75"/>
<circle cx="572.0" cy="897.0" r="0.9" fill="#8C8C8C" fill-opacity=".75"/>
<circle cx="554.0" cy="900.0" r="0.9" fill="#8C8C8C" fill-opacity=".75"/>
<circle cx="514.4" cy="891.0" r="0.9" fill="#8C8C8C" fill-opacity=".75"/>
<circle cx="452.0" cy="895.0" r="0.9" fill="#8C8C8C" fill-opacity=".75"/>
<circle cx="670.4" cy="859.4" r="0.9" fill="#8C8C8C" fill-opacity=".75"/>
<circle cx="724.4" cy="870.0" r="0.9" fill="#8C8C8C" fill-opacity=".75"/>
<circle cx="719.4" cy="875.6" r="0.9" fill="#8C8C8C" fill-opacity=".75"/>
<circle cx="615.6" cy="847.0" r="0.9" fill="#8C8C8C" fill-opacity=".75"/>
<circle cx="596.0" cy="855.6" r="0.9" fill="#8C8C8C" fill-opacity=".75"/>
<circle cx="439.6" cy="805.0" r="1.96" fill="#1B4F88" stroke="#1B4F88" stroke-opacity=".35" stroke-width="1"/>
<circle cx="427.6" cy="811.0" r="0.85" fill="#1B4F88" stroke="#1B4F88" stroke-opacity=".35" stroke-width="1"/>
<circle cx="429.4" cy="872.2" r="1.04" fill="#1B4F88" stroke="#1B4F88" stroke-opacity=".35" stroke-width="1"/>
<circle cx="442.4" cy="871.2" r="1.77" fill="#1B4F88" stroke="#1B4F88" stroke-opacity=".35" stroke-width="1"/>
<circle cx="441.4" cy="876.6" r="1.41" fill="#1B4F88" stroke="#1B4F88" stroke-opacity=".35" stroke-width="1"/>
<circle cx="458.0" cy="863.2" r="1.59" fill="#1B4F88" stroke="#1B4F88" stroke-opacity=".35" stroke-width="1"/>
<circle cx="462.8" cy="859.4" r="1.22" fill="#1B4F88" stroke="#1B4F88" stroke-opacity=".35" stroke-width="1"/>
<circle cx="469.6" cy="872.2" r="1.59" fill="#1B4F88" stroke="#1B4F88" stroke-opacity=".35" stroke-width="1"/>
<circle cx="477.0" cy="854.4" r="0.85" fill="#1B4F88" stroke="#1B4F88" stroke-opacity=".35" stroke-width="1"/>
<circle cx="480.0" cy="853.6" r="0.67" fill="#1B4F88" stroke="#1B4F88" stroke-opacity=".35" stroke-width="1"/>
<circle cx="482.4" cy="881.0" r="1.22" fill="#1B4F88" stroke="#1B4F88" stroke-opacity=".35" stroke-width="1"/>
<circle cx="480.0" cy="888.0" r="1.22" fill="#1B4F88" stroke="#1B4F88" stroke-opacity=".35" stroke-width="1"/>
<circle cx="468.0" cy="892.4" r="1.96" fill="#1B4F88" stroke="#1B4F88" stroke-opacity=".35" stroke-width="1"/>
<circle cx="466.0" cy="899.6" r="2.14" fill="#1B4F88" stroke="#1B4F88" stroke-opacity=".35" stroke-width="1"/>
<circle cx="462.4" cy="903.0" r="1.96" fill="#1B4F88" stroke="#1B4F88" stroke-opacity=".35" stroke-width="1"/>
<circle cx="469.0" cy="905.6" r="1.59" fill="#1B4F88" stroke="#1B4F88" stroke-opacity=".35" stroke-width="1"/>
<circle cx="460.0" cy="910.0" r="1.59" fill="#1B4F88" stroke="#1B4F88" stroke-opacity=".35" stroke-width="1"/>
<circle cx="441.0" cy="911.0" r="1.22" fill="#1B4F88" stroke="#1B4F88" stroke-opacity=".35" stroke-width="1"/>
<circle cx="493.6" cy="890.0" r="1.59" fill="#1B4F88" stroke="#1B4F88" stroke-opacity=".35" stroke-width="1"/>
<circle cx="503.6" cy="876.6" r="1.77" fill="#1B4F88" stroke="#1B4F88" stroke-opacity=".35" stroke-width="1"/>
<circle cx="504.4" cy="896.4" r="1.77" fill="#1B4F88" stroke="#1B4F88" stroke-opacity=".35" stroke-width="1"/>
<circle cx="506.4" cy="900.0" r="1.77" fill="#1B4F88" stroke="#1B4F88" stroke-opacity=".35" stroke-width="1"/>
<circle cx="496.6" cy="899.6" r="1.22" fill="#1B4F88" stroke="#1B4F88" stroke-opacity=".35" stroke-width="1"/>
<circle cx="509.0" cy="906.0" r="2.14" fill="#1B4F88" stroke="#1B4F88" stroke-opacity=".35" stroke-width="1"/>
<circle cx="516.6" cy="898.0" r="1.04" fill="#1B4F88" stroke="#1B4F88" stroke-opacity=".35" stroke-width="1"/>
<circle cx="522.0" cy="873.0" r="0.85" fill="#1B4F88" stroke="#1B4F88" stroke-opacity=".35" stroke-width="1"/>
<circle cx="532.6" cy="883.4" r="1.41" fill="#1B4F88" stroke="#1B4F88" stroke-opacity=".35" stroke-width="1"/>
<circle cx="531.0" cy="893.0" r="1.04" fill="#1B4F88" stroke="#1B4F88" stroke-opacity=".35" stroke-width="1"/>
<circle cx="531.0" cy="898.0" r="1.04" fill="#1B4F88" stroke="#1B4F88" stroke-opacity=".35" stroke-width="1"/>
<circle cx="545.4" cy="900.0" r="1.22" fill="#1B4F88" stroke="#1B4F88" stroke-opacity=".35" stroke-width="1"/>
<circle cx="509.4" cy="841.6" r="1.04" fill="#1B4F88" stroke="#1B4F88" stroke-opacity=".35" stroke-width="1"/>
<circle cx="508.0" cy="849.6" r="1.77" fill="#1B4F88" stroke="#1B4F88" stroke-opacity=".35" stroke-width="1"/>
<circle cx="512.0" cy="852.4" r="1.04" fill="#1B4F88" stroke="#1B4F88" stroke-opacity=".35" stroke-width="1"/>
<circle cx="523.0" cy="850.0" r="1.41" fill="#1B4F88" stroke="#1B4F88" stroke-opacity=".35" stroke-width="1"/>
<circle cx="526.0" cy="832.6" r="1.04" fill="#1B4F88" stroke="#1B4F88" stroke-opacity=".35" stroke-width="1"/>
<circle cx="543.0" cy="851.4" r="1.04" fill="#1B4F88" stroke="#1B4F88" stroke-opacity=".35" stroke-width="1"/>
<circle cx="531.6" cy="858.6" r="1.22" fill="#1B4F88" stroke="#1B4F88" stroke-opacity=".35" stroke-width="1"/>
<circle cx="533.0" cy="865.4" r="1.59" fill="#1B4F88" stroke="#1B4F88" stroke-opacity=".35" stroke-width="1"/>
<circle cx="507.0" cy="865.0" r="1.22" fill="#1B4F88" stroke="#1B4F88" stroke-opacity=".35" stroke-width="1"/>
<circle cx="554.0" cy="872.6" r="1.77" fill="#1B4F88" stroke="#1B4F88" stroke-opacity=".35" stroke-width="1"/>
<circle cx="572.4" cy="879.6" r="1.77" fill="#1B4F88" stroke="#1B4F88" stroke-opacity=".35" stroke-width="1"/>
<circle cx="581.0" cy="869.0" r="0.67" fill="#1B4F88" stroke="#1B4F88" stroke-opacity=".35" stroke-width="1"/>
<circle cx="587.6" cy="848.4" r="1.22" fill="#1B4F88" stroke="#1B4F88" stroke-opacity=".35" stroke-width="1"/>
<circle cx="592.0" cy="847.2" r="1.22" fill="#1B4F88" stroke="#1B4F88" stroke-opacity=".35" stroke-width="1"/>
<circle cx="602.6" cy="861.4" r="0.67" fill="#1B4F88" stroke="#1B4F88" stroke-opacity=".35" stroke-width="1"/>
<circle cx="610.6" cy="889.6" r="1.04" fill="#1B4F88" stroke="#1B4F88" stroke-opacity=".35" stroke-width="1"/>
<circle cx="621.0" cy="836.6" r="1.41" fill="#1B4F88" stroke="#1B4F88" stroke-opacity=".35" stroke-width="1"/>
<circle cx="624.4" cy="838.0" r="1.41" fill="#1B4F88" stroke="#1B4F88" stroke-opacity=".35" stroke-width="1"/>
<circle cx="633.6" cy="821.4" r="1.04" fill="#1B4F88" stroke="#1B4F88" stroke-opacity=".35" stroke-width="1"/>
<circle cx="638.4" cy="819.4" r="1.41" fill="#1B4F88" stroke="#1B4F88" stroke-opacity=".35" stroke-width="1"/>
<circle cx="633.6" cy="830.4" r="1.41" fill="#1B4F88" stroke="#1B4F88" stroke-opacity=".35" stroke-width="1"/>
<circle cx="638.4" cy="836.4" r="1.59" fill="#1B4F88" stroke="#1B4F88" stroke-opacity=".35" stroke-width="1"/>
<circle cx="648.0" cy="846.4" r="1.96" fill="#1B4F88" stroke="#1B4F88" stroke-opacity=".35" stroke-width="1"/>
<circle cx="635.0" cy="848.4" r="0.85" fill="#1B4F88" stroke="#1B4F88" stroke-opacity=".35" stroke-width="1"/>
<circle cx="645.6" cy="868.0" r="1.59" fill="#1B4F88" stroke="#1B4F88" stroke-opacity=".35" stroke-width="1"/>
<circle cx="633.6" cy="876.6" r="0.85" fill="#1B4F88" stroke="#1B4F88" stroke-opacity=".35" stroke-width="1"/>
<circle cx="655.6" cy="857.0" r="1.04" fill="#1B4F88" stroke="#1B4F88" stroke-opacity=".35" stroke-width="1"/>
<circle cx="661.6" cy="853.0" r="1.96" fill="#1B4F88" stroke="#1B4F88" stroke-opacity=".35" stroke-width="1"/>
<circle cx="660.6" cy="838.4" r="1.41" fill="#1B4F88" stroke="#1B4F88" stroke-opacity=".35" stroke-width="1"/>
<circle cx="666.6" cy="816.4" r="1.41" fill="#1B4F88" stroke="#1B4F88" stroke-opacity=".35" stroke-width="1"/>
<circle cx="667.0" cy="835.4" r="1.04" fill="#1B4F88" stroke="#1B4F88" stroke-opacity=".35" stroke-width="1"/>
<circle cx="674.6" cy="838.6" r="2.14" fill="#1B4F88" stroke="#1B4F88" stroke-opacity=".35" stroke-width="1"/>
<circle cx="676.0" cy="825.6" r="0.85" fill="#1B4F88" stroke="#1B4F88" stroke-opacity=".35" stroke-width="1"/>
<circle cx="680.0" cy="830.4" r="1.04" fill="#1B4F88" stroke="#1B4F88" stroke-opacity=".35" stroke-width="1"/>
<circle cx="688.0" cy="816.0" r="1.04" fill="#1B4F88" stroke="#1B4F88" stroke-opacity=".35" stroke-width="1"/>
<circle cx="691.4" cy="831.0" r="1.59" fill="#1B4F88" stroke="#1B4F88" stroke-opacity=".35" stroke-width="1"/>
<circle cx="679.0" cy="855.4" r="1.41" fill="#1B4F88" stroke="#1B4F88" stroke-opacity=".35" stroke-width="1"/>
<circle cx="663.0" cy="861.4" r="1.41" fill="#1B4F88" stroke="#1B4F88" stroke-opacity=".35" stroke-width="1"/>
<circle cx="685.0" cy="847.4" r="1.04" fill="#1B4F88" stroke="#1B4F88" stroke-opacity=".35" stroke-width="1"/>
<circle cx="691.0" cy="853.0" r="1.22" fill="#1B4F88" stroke="#1B4F88" stroke-opacity=".35" stroke-width="1"/>
<circle cx="697.0" cy="855.6" r="1.22" fill="#1B4F88" stroke="#1B4F88" stroke-opacity=".35" stroke-width="1"/>
<circle cx="694.0" cy="865.6" r="1.77" fill="#1B4F88" stroke="#1B4F88" stroke-opacity=".35" stroke-width="1"/>
<circle cx="697.0" cy="864.6" r="1.41" fill="#1B4F88" stroke="#1B4F88" stroke-opacity=".35" stroke-width="1"/>
<circle cx="702.6" cy="865.0" r="1.04" fill="#1B4F88" stroke="#1B4F88" stroke-opacity=".35" stroke-width="1"/>
<circle cx="706.6" cy="851.4" r="1.22" fill="#1B4F88" stroke="#1B4F88" stroke-opacity=".35" stroke-width="1"/>
<circle cx="710.6" cy="850.4" r="1.41" fill="#1B4F88" stroke="#1B4F88" stroke-opacity=".35" stroke-width="1"/>
<circle cx="729.6" cy="852.0" r="0.85" fill="#1B4F88" stroke="#1B4F88" stroke-opacity=".35" stroke-width="1"/>
<circle cx="732.4" cy="823.2" r="1.59" fill="#1B4F88" stroke="#1B4F88" stroke-opacity=".35" stroke-width="1"/>
<circle cx="736.0" cy="828.0" r="1.41" fill="#1B4F88" stroke="#1B4F88" stroke-opacity=".35" stroke-width="1"/>
<circle cx="681.0" cy="877.4" r="1.41" fill="#1B4F88" stroke="#1B4F88" stroke-opacity=".35" stroke-width="1"/>
<circle cx="676.6" cy="880.4" r="1.41" fill="#1B4F88" stroke="#1B4F88" stroke-opacity=".35" stroke-width="1"/>
<circle cx="669.4" cy="880.0" r="1.04" fill="#1B4F88" stroke="#1B4F88" stroke-opacity=".35" stroke-width="1"/>
<circle cx="657.0" cy="883.4" r="0.85" fill="#1B4F88" stroke="#1B4F88" stroke-opacity=".35" stroke-width="1"/>
<circle cx="658.4" cy="895.4" r="1.41" fill="#1B4F88" stroke="#1B4F88" stroke-opacity=".35" stroke-width="1"/>
<circle cx="690.0" cy="887.0" r="1.41" fill="#1B4F88" stroke="#1B4F88" stroke-opacity=".35" stroke-width="1"/>
<circle cx="688.4" cy="894.4" r="1.22" fill="#1B4F88" stroke="#1B4F88" stroke-opacity=".35" stroke-width="1"/>
<circle cx="702.0" cy="886.0" r="1.22" fill="#1B4F88" stroke="#1B4F88" stroke-opacity=".35" stroke-width="1"/>
<circle cx="721.4" cy="888.6" r="1.41" fill="#1B4F88" stroke="#1B4F88" stroke-opacity=".35" stroke-width="1"/>
<circle cx="730.0" cy="888.0" r="0.85" fill="#1B4F88" stroke="#1B4F88" stroke-opacity=".35" stroke-width="1"/>
<circle cx="729.4" cy="898.0" r="1.04" fill="#1B4F88" stroke="#1B4F88" stroke-opacity=".35" stroke-width="1"/>
<circle cx="620.0" cy="902.4" r="0.67" fill="#1B4F88" stroke="#1B4F88" stroke-opacity=".35" stroke-width="1"/>
<circle cx="647.0" cy="903.6" r="0.85" fill="#1B4F88" stroke="#1B4F88" stroke-opacity=".35" stroke-width="1"/>
<circle cx="586.0" cy="911.0" r="1.13" fill="#1B4F88" stroke="#1B4F88" stroke-opacity=".35" stroke-width="1"/>
<circle cx="508.0" cy="911.0" r="1.96" fill="#1B4F88" stroke="#1B4F88" stroke-opacity=".35" stroke-width="1"/>
<circle cx="512.0" cy="905.0" r="1.22" fill="#1B4F88" stroke="#1B4F88" stroke-opacity=".35" stroke-width="1"/>
<polygon points="740.0,864.0 752.6,880.0 740.0,890.0" fill="#8FBDE6" fill-opacity="0.26"/>
<polygon points="752.6,880.0 777.4,898.4 751.0,904.4" fill="#8FBDE6" fill-opacity="0.24"/>
<polygon points="777.4,898.4 804.6,889.4 817.0,895.4 810.4,905.0 796.0,912.0 779.0,908.6" fill="#8FBDE6" fill-opacity="0.24"/>
<polygon points="926.0,819.4 964.0,823.4 949.0,840.0" fill="#8FBDE6" fill-opacity="0.27"/>
<polygon points="981.4,865.0 996.6,854.0 1008.0,875.0" fill="#8FBDE6" fill-opacity="0.26"/>
<polygon points="905.0,873.0 919.6,872.4 929.6,874.0 925.6,889.0 914.6,893.0 893.6,897.0 887.4,887.6" fill="#8FBDE6" fill-opacity="0.10"/>
<polygon points="1022.0,870.6 1047.0,865.0 1042.6,871.0" fill="#8FBDE6" fill-opacity="0.15"/>
<polygon points="967.4,887.0 981.4,865.0 985.0,875.0" fill="#8FBDE6" fill-opacity="0.10"/>
<polygon points="838.8,886.0 853.6,887.6 887.4,887.6 868.6,886.0" fill="#8FBDE6" fill-opacity="0.13"/>
<path d="M838.8 886.0L841.6 851.0M955.0 859.4L981.4 870.0M838.8 886.0L836.0 912.0M853.6 887.6L844.0 912.0M893.6 897.0L930.0 879.4" stroke="#3F86C9" stroke-opacity="0.26" stroke-width="0.9" fill="none"/>
<path d="M949.0 840.0L955.0 859.4M893.6 897.0L900.0 912.0M825.0 902.0L840.0 912.0M751.0 904.4L750.0 912.0" stroke="#3F86C9" stroke-opacity="0.34" stroke-width="0.9" fill="none"/>
<path d="M752.6 880.0L751.0 904.4M752.6 880.0L777.4 898.4M777.4 898.4L804.6 889.4M817.0 895.4L838.8 886.0M838.8 886.0L853.6 887.6M853.6 887.6L887.4 887.6M926.0 819.4L964.0 823.4M996.6 854.0L1008.0 875.0M981.4 865.0L1008.0 875.0M988.6 881.6L993.0 888.6M1047.0 865.0L1073.6 876.4M988.6 881.6L1008.0 875.0M904.0 881.6L914.6 893.0M804.6 889.4L810.4 905.0M913.0 898.6L912.0 912.0" stroke="#3F86C9" stroke-opacity="0.42" stroke-width="0.9" fill="none"/>
<path d="M857.0 856.0L851.6 866.4M851.6 866.4L868.6 886.0M905.0 873.0L914.6 893.0M919.6 872.4L914.6 893.0M919.6 872.4L925.6 889.0M929.6 874.0L925.6 889.0M893.6 897.0L883.0 904.6M926.0 819.4L949.0 840.0M981.4 865.0L967.4 887.0M978.0 899.6L993.0 888.6M985.0 875.0L988.6 881.6M901.6 878.0L893.6 897.0M885.0 884.0L893.6 897.0M887.4 887.6L883.0 904.6M893.6 897.0L913.0 898.6M993.0 888.6L988.6 905.0M978.0 899.6L953.0 910.4M978.0 899.6L969.6 909.0M1078.0 876.0L1080.0 890.0M1066.4 906.4L1079.0 898.0M981.4 865.0L985.0 875.0" stroke="#3F86C9" stroke-opacity="0.51" stroke-width="0.9" fill="none"/>
<path d="M841.6 851.0L862.6 848.0M841.6 851.0L857.0 856.0M862.6 848.0L857.0 856.0M853.6 887.6L859.0 904.0M853.6 887.6L867.6 899.6M868.6 875.0L887.4 887.6M893.6 897.0L905.0 873.0M893.6 897.0L914.6 893.0M905.0 873.0L919.6 872.4M919.6 872.4L929.6 874.0M914.6 893.0L913.0 898.6M964.0 823.4L949.0 840.0M967.4 887.0L978.0 899.6M1042.6 871.0L1047.0 865.0M1073.6 876.4L1079.0 898.0M779.0 908.6L769.6 905.2M988.6 905.0L1000.6 907.6M1073.6 876.4L1078.0 876.0M982.6 860.0L996.6 854.0M982.6 860.0L981.4 865.0" stroke="#3F86C9" stroke-opacity="0.59" stroke-width="0.9" fill="none"/>
<path d="M804.6 889.4L817.0 895.4M817.0 895.4L825.0 902.0M851.6 866.4L853.6 887.6M887.4 887.6L893.6 897.0M981.4 865.0L996.6 854.0M1008.0 875.0L1022.0 870.6M1022.0 870.6L1042.6 871.0M867.6 899.6L875.0 900.0M978.0 899.6L982.6 903.6M982.6 903.6L988.6 905.0" stroke="#3F86C9" stroke-opacity="0.68" stroke-width="0.9" fill="none"/>
<circle cx="770.0" cy="771.2" r="0.9" fill="#8C8C8C" fill-opacity=".75"/>
<circle cx="872.0" cy="781.8" r="0.9" fill="#8C8C8C" fill-opacity=".75"/>
<circle cx="854.0" cy="797.2" r="0.9" fill="#8C8C8C" fill-opacity=".75"/>
<circle cx="863.0" cy="810.0" r="0.9" fill="#8C8C8C" fill-opacity=".75"/>
<circle cx="866.4" cy="810.0" r="0.9" fill="#8C8C8C" fill-opacity=".75"/>
<circle cx="839.0" cy="814.4" r="0.9" fill="#8C8C8C" fill-opacity=".75"/>
<circle cx="919.4" cy="796.0" r="0.9" fill="#8C8C8C" fill-opacity=".75"/>
<circle cx="949.0" cy="799.0" r="0.9" fill="#8C8C8C" fill-opacity=".75"/>
<circle cx="954.0" cy="807.4" r="0.9" fill="#8C8C8C" fill-opacity=".75"/>
<circle cx="969.0" cy="765.4" r="0.9" fill="#8C8C8C" fill-opacity=".75"/>
<circle cx="957.0" cy="779.0" r="0.9" fill="#8C8C8C" fill-opacity=".75"/>
<circle cx="981.6" cy="825.4" r="0.9" fill="#8C8C8C" fill-opacity=".75"/>
<circle cx="984.0" cy="836.0" r="0.9" fill="#8C8C8C" fill-opacity=".75"/>
<circle cx="972.6" cy="852.0" r="0.9" fill="#8C8C8C" fill-opacity=".75"/>
<circle cx="1014.0" cy="849.0" r="0.9" fill="#8C8C8C" fill-opacity=".75"/>
<circle cx="1059.0" cy="820.6" r="0.9" fill="#8C8C8C" fill-opacity=".75"/>
<circle cx="1072.0" cy="861.6" r="0.9" fill="#8C8C8C" fill-opacity=".75"/>
<circle cx="901.6" cy="860.0" r="0.9" fill="#8C8C8C" fill-opacity=".75"/>
<circle cx="876.0" cy="858.0" r="0.9" fill="#8C8C8C" fill-opacity=".75"/>
<circle cx="872.0" cy="859.0" r="0.9" fill="#8C8C8C" fill-opacity=".75"/>
<circle cx="838.4" cy="860.0" r="0.9" fill="#8C8C8C" fill-opacity=".75"/>
<circle cx="861.0" cy="868.0" r="0.9" fill="#8C8C8C" fill-opacity=".75"/>
<circle cx="894.0" cy="882.0" r="0.9" fill="#8C8C8C" fill-opacity=".75"/>
<circle cx="1025.0" cy="887.6" r="0.9" fill="#8C8C8C" fill-opacity=".75"/>
<circle cx="1042.0" cy="887.0" r="0.9" fill="#8C8C8C" fill-opacity=".75"/>
<circle cx="1044.0" cy="893.6" r="0.9" fill="#8C8C8C" fill-opacity=".75"/>
<circle cx="1013.6" cy="901.0" r="0.9" fill="#8C8C8C" fill-opacity=".75"/>
<circle cx="1001.0" cy="900.0" r="0.9" fill="#8C8C8C" fill-opacity=".75"/>
<circle cx="1063.0" cy="887.6" r="0.9" fill="#8C8C8C" fill-opacity=".75"/>
<circle cx="941.6" cy="891.4" r="0.9" fill="#8C8C8C" fill-opacity=".75"/>
<circle cx="941.0" cy="899.6" r="0.9" fill="#8C8C8C" fill-opacity=".75"/>
<circle cx="938.0" cy="902.6" r="0.9" fill="#8C8C8C" fill-opacity=".75"/>
<circle cx="922.0" cy="902.0" r="0.9" fill="#8C8C8C" fill-opacity=".75"/>
<circle cx="773.6" cy="887.0" r="0.9" fill="#8C8C8C" fill-opacity=".75"/>
<circle cx="810.4" cy="890.0" r="0.9" fill="#8C8C8C" fill-opacity=".75"/>
<circle cx="1025.0" cy="905.0" r="0.9" fill="#8C8C8C" fill-opacity=".75"/>
<circle cx="744.0" cy="835.6" r="1.77" fill="#1B4F88" stroke="#1B4F88" stroke-opacity=".35" stroke-width="1"/>
<circle cx="752.6" cy="880.0" r="1.59" fill="#1B4F88" stroke="#1B4F88" stroke-opacity=".35" stroke-width="1"/>
<circle cx="751.0" cy="904.4" r="1.41" fill="#1B4F88" stroke="#1B4F88" stroke-opacity=".35" stroke-width="1"/>
<circle cx="777.4" cy="898.4" r="1.04" fill="#1B4F88" stroke="#1B4F88" stroke-opacity=".35" stroke-width="1"/>
<circle cx="769.6" cy="905.2" r="1.04" fill="#1B4F88" stroke="#1B4F88" stroke-opacity=".35" stroke-width="1"/>
<circle cx="779.0" cy="908.6" r="1.59" fill="#1B4F88" stroke="#1B4F88" stroke-opacity=".35" stroke-width="1"/>
<circle cx="804.6" cy="889.4" r="1.96" fill="#1B4F88" stroke="#1B4F88" stroke-opacity=".35" stroke-width="1"/>
<circle cx="817.0" cy="895.4" r="1.22" fill="#1B4F88" stroke="#1B4F88" stroke-opacity=".35" stroke-width="1"/>
<circle cx="825.0" cy="902.0" r="1.41" fill="#1B4F88" stroke="#1B4F88" stroke-opacity=".35" stroke-width="1"/>
<circle cx="810.4" cy="905.0" r="0.67" fill="#1B4F88" stroke="#1B4F88" stroke-opacity=".35" stroke-width="1"/>
<circle cx="838.8" cy="886.0" r="2.14" fill="#1B4F88" stroke="#1B4F88" stroke-opacity=".35" stroke-width="1"/>
<circle cx="841.6" cy="851.0" r="1.96" fill="#1B4F88" stroke="#1B4F88" stroke-opacity=".35" stroke-width="1"/>
<circle cx="862.6" cy="848.0" r="1.22" fill="#1B4F88" stroke="#1B4F88" stroke-opacity=".35" stroke-width="1"/>
<circle cx="857.0" cy="856.0" r="1.41" fill="#1B4F88" stroke="#1B4F88" stroke-opacity=".35" stroke-width="1"/>
<circle cx="851.6" cy="866.4" r="1.77" fill="#1B4F88" stroke="#1B4F88" stroke-opacity=".35" stroke-width="1"/>
<circle cx="853.6" cy="887.6" r="1.41" fill="#1B4F88" stroke="#1B4F88" stroke-opacity=".35" stroke-width="1"/>
<circle cx="868.6" cy="875.0" r="1.41" fill="#1B4F88" stroke="#1B4F88" stroke-opacity=".35" stroke-width="1"/>
<circle cx="868.6" cy="886.0" r="0.85" fill="#1B4F88" stroke="#1B4F88" stroke-opacity=".35" stroke-width="1"/>
<circle cx="867.6" cy="899.6" r="1.77" fill="#1B4F88" stroke="#1B4F88" stroke-opacity=".35" stroke-width="1"/>
<circle cx="875.0" cy="900.0" r="1.04" fill="#1B4F88" stroke="#1B4F88" stroke-opacity=".35" stroke-width="1"/>
<circle cx="859.0" cy="904.0" r="1.04" fill="#1B4F88" stroke="#1B4F88" stroke-opacity=".35" stroke-width="1"/>
<circle cx="883.0" cy="904.6" r="1.77" fill="#1B4F88" stroke="#1B4F88" stroke-opacity=".35" stroke-width="1"/>
<circle cx="887.4" cy="887.6" r="1.41" fill="#1B4F88" stroke="#1B4F88" stroke-opacity=".35" stroke-width="1"/>
<circle cx="885.0" cy="884.0" r="0.85" fill="#1B4F88" stroke="#1B4F88" stroke-opacity=".35" stroke-width="1"/>
<circle cx="893.6" cy="897.0" r="1.96" fill="#1B4F88" stroke="#1B4F88" stroke-opacity=".35" stroke-width="1"/>
<circle cx="905.0" cy="873.0" r="1.41" fill="#1B4F88" stroke="#1B4F88" stroke-opacity=".35" stroke-width="1"/>
<circle cx="901.6" cy="878.0" r="1.04" fill="#1B4F88" stroke="#1B4F88" stroke-opacity=".35" stroke-width="1"/>
<circle cx="904.0" cy="881.6" r="1.04" fill="#1B4F88" stroke="#1B4F88" stroke-opacity=".35" stroke-width="1"/>
<circle cx="919.6" cy="872.4" r="1.22" fill="#1B4F88" stroke="#1B4F88" stroke-opacity=".35" stroke-width="1"/>
<circle cx="929.6" cy="874.0" r="1.04" fill="#1B4F88" stroke="#1B4F88" stroke-opacity=".35" stroke-width="1"/>
<circle cx="930.0" cy="879.4" r="0.85" fill="#1B4F88" stroke="#1B4F88" stroke-opacity=".35" stroke-width="1"/>
<circle cx="925.6" cy="889.0" r="1.22" fill="#1B4F88" stroke="#1B4F88" stroke-opacity=".35" stroke-width="1"/>
<circle cx="914.6" cy="893.0" r="1.59" fill="#1B4F88" stroke="#1B4F88" stroke-opacity=".35" stroke-width="1"/>
<circle cx="913.0" cy="898.6" r="1.41" fill="#1B4F88" stroke="#1B4F88" stroke-opacity=".35" stroke-width="1"/>
<circle cx="926.0" cy="819.4" r="0.85" fill="#1B4F88" stroke="#1B4F88" stroke-opacity=".35" stroke-width="1"/>
<circle cx="964.0" cy="823.4" r="1.77" fill="#1B4F88" stroke="#1B4F88" stroke-opacity=".35" stroke-width="1"/>
<circle cx="949.0" cy="840.0" r="1.96" fill="#1B4F88" stroke="#1B4F88" stroke-opacity=".35" stroke-width="1"/>
<circle cx="962.6" cy="853.4" r="1.41" fill="#1B4F88" stroke="#1B4F88" stroke-opacity=".35" stroke-width="1"/>
<circle cx="955.0" cy="859.4" r="0.50" fill="#1B4F88" stroke="#1B4F88" stroke-opacity=".35" stroke-width="1"/>
<circle cx="996.6" cy="854.0" r="2.14" fill="#1B4F88" stroke="#1B4F88" stroke-opacity=".35" stroke-width="1"/>
<circle cx="1000.0" cy="854.6" r="1.59" fill="#1B4F88" stroke="#1B4F88" stroke-opacity=".35" stroke-width="1"/>
<circle cx="982.6" cy="860.0" r="1.04" fill="#1B4F88" stroke="#1B4F88" stroke-opacity=".35" stroke-width="1"/>
<circle cx="981.4" cy="865.0" r="1.96" fill="#1B4F88" stroke="#1B4F88" stroke-opacity=".35" stroke-width="1"/>
<circle cx="985.0" cy="875.0" r="1.22" fill="#1B4F88" stroke="#1B4F88" stroke-opacity=".35" stroke-width="1"/>
<circle cx="988.6" cy="881.6" r="0.85" fill="#1B4F88" stroke="#1B4F88" stroke-opacity=".35" stroke-width="1"/>
<circle cx="967.4" cy="887.0" r="2.14" fill="#1B4F88" stroke="#1B4F88" stroke-opacity=".35" stroke-width="1"/>
<circle cx="993.0" cy="888.6" r="1.59" fill="#1B4F88" stroke="#1B4F88" stroke-opacity=".35" stroke-width="1"/>
<circle cx="978.0" cy="899.6" r="1.22" fill="#1B4F88" stroke="#1B4F88" stroke-opacity=".35" stroke-width="1"/>
<circle cx="982.6" cy="903.6" r="1.04" fill="#1B4F88" stroke="#1B4F88" stroke-opacity=".35" stroke-width="1"/>
<circle cx="988.6" cy="905.0" r="1.04" fill="#1B4F88" stroke="#1B4F88" stroke-opacity=".35" stroke-width="1"/>
<circle cx="1000.6" cy="907.6" r="0.85" fill="#1B4F88" stroke="#1B4F88" stroke-opacity=".35" stroke-width="1"/>
<circle cx="1008.0" cy="875.0" r="1.41" fill="#1B4F88" stroke="#1B4F88" stroke-opacity=".35" stroke-width="1"/>
<circle cx="1012.4" cy="875.4" r="1.77" fill="#1B4F88" stroke="#1B4F88" stroke-opacity=".35" stroke-width="1"/>
<circle cx="1022.0" cy="870.6" r="1.04" fill="#1B4F88" stroke="#1B4F88" stroke-opacity=".35" stroke-width="1"/>
<circle cx="1026.0" cy="870.0" r="0.85" fill="#1B4F88" stroke="#1B4F88" stroke-opacity=".35" stroke-width="1"/>
<circle cx="1042.6" cy="871.0" r="1.22" fill="#1B4F88" stroke="#1B4F88" stroke-opacity=".35" stroke-width="1"/>
<circle cx="1047.0" cy="865.0" r="1.77" fill="#1B4F88" stroke="#1B4F88" stroke-opacity=".35" stroke-width="1"/>
<circle cx="1073.6" cy="876.4" r="1.77" fill="#1B4F88" stroke="#1B4F88" stroke-opacity=".35" stroke-width="1"/>
<circle cx="1078.0" cy="876.0" r="1.22" fill="#1B4F88" stroke="#1B4F88" stroke-opacity=".35" stroke-width="1"/>
<circle cx="1066.4" cy="906.4" r="1.22" fill="#1B4F88" stroke="#1B4F88" stroke-opacity=".35" stroke-width="1"/>
<circle cx="1079.0" cy="898.0" r="1.22" fill="#1B4F88" stroke="#1B4F88" stroke-opacity=".35" stroke-width="1"/>
<circle cx="953.0" cy="910.4" r="1.22" fill="#1B4F88" stroke="#1B4F88" stroke-opacity=".35" stroke-width="1"/>
<circle cx="969.6" cy="909.0" r="1.22" fill="#1B4F88" stroke="#1B4F88" stroke-opacity=".35" stroke-width="1"/>
<polygon points="1102.0,848.0 1114.4,868.0 1099.4,875.4" fill="#8FBDE6" fill-opacity="0.27"/>
<polygon points="1080.0,880.0 1093.0,890.6 1080.0,900.0" fill="#8FBDE6" fill-opacity="0.26"/>
<polygon points="1138.4,816.4 1157.0,830.6 1149.0,833.6 1123.6,833.6" fill="#8FBDE6" fill-opacity="0.26"/>
<polygon points="1121.0,874.6 1137.0,865.6 1146.0,882.6 1144.0,887.2 1135.0,888.0 1118.4,883.6" fill="#8FBDE6" fill-opacity="0.27"/>
<polygon points="1194.0,803.6 1210.0,816.0 1199.4,842.4" fill="#8FBDE6" fill-opacity="0.26"/>
<polygon points="1273.4,849.0 1289.4,872.0 1261.6,871.2" fill="#8FBDE6" fill-opacity="0.26"/>
<polygon points="1300.0,865.4 1326.0,862.4 1301.4,872.6" fill="#8FBDE6" fill-opacity="0.15"/>
<polygon points="1326.0,862.4 1355.0,868.0 1356.0,871.6" fill="#8FBDE6" fill-opacity="0.15"/>
<polygon points="1314.0,877.6 1337.4,896.6 1311.6,889.6" fill="#8FBDE6" fill-opacity="0.26"/>
<polygon points="1164.0,899.0 1189.0,890.0 1175.0,904.6" fill="#8FBDE6" fill-opacity="0.24"/>
<polygon points="1126.0,890.0 1160.0,903.0 1150.0,912.0 1144.0,902.0" fill="#8FBDE6" fill-opacity="0.19"/>
<polygon points="1243.4,893.4 1260.0,912.0 1234.0,912.0" fill="#8FBDE6" fill-opacity="0.24"/>
<polygon points="1366.0,856.6 1367.0,841.6 1380.0,869.6" fill="#8FBDE6" fill-opacity="0.07"/>
<polygon points="1210.6,871.0 1222.0,882.6 1209.0,884.4" fill="#8FBDE6" fill-opacity="0.21"/>
<polygon points="1301.4,872.6 1314.0,877.6 1311.6,889.6 1301.4,883.0" fill="#8FBDE6" fill-opacity="0.26"/>
<polygon points="1149.0,833.6 1157.0,830.6 1152.4,841.4 1139.6,849.6" fill="#8FBDE6" fill-opacity="0.17"/>
<polygon points="1193.6,860.0 1199.4,842.4 1203.0,843.4" fill="#8FBDE6" fill-opacity="0.21"/>
<polygon points="1337.4,896.6 1355.0,868.0 1356.0,871.6" fill="#8FBDE6" fill-opacity="0.10"/>
<path d="M1273.4 849.0L1300.6 817.4" stroke="#3F86C9" stroke-opacity="0.13" stroke-width="0.9" fill="none"/>
<path d="M1367.0 841.6L1380.0 869.6M1198.4 904.6L1195.0 874.0" stroke="#3F86C9" stroke-opacity="0.21" stroke-width="0.9" fill="none"/>
<path d="M1289.4 872.0L1301.4 883.0M1311.6 889.6L1337.4 896.6M1243.4 893.4L1260.0 912.0M1189.0 890.0L1194.0 862.0" stroke="#3F86C9" stroke-opacity="0.26" stroke-width="0.9" fill="none"/>
<path d="M1326.0 862.4L1355.0 868.0M1337.4 896.6L1335.4 903.0M1160.0 903.0L1144.0 887.2M1189.6 905.2L1198.4 904.6" stroke="#3F86C9" stroke-opacity="0.34" stroke-width="0.9" fill="none"/>
<path d="M1114.4 868.0L1138.4 856.4M1123.6 833.6L1149.0 833.6M1149.0 833.6L1139.6 849.6M1135.6 819.6L1149.0 833.6M1118.4 883.6L1103.0 907.4M1162.4 873.0L1164.0 899.0M1162.4 873.0L1189.0 890.0M1209.0 884.4L1233.0 889.4M1210.0 816.0L1199.4 842.4M1243.4 893.4L1261.6 871.2M1261.6 871.2L1273.4 849.0M1273.4 849.0L1289.4 872.0M1261.6 871.2L1289.4 872.0M1261.6 871.2L1277.0 863.0M1282.6 861.0L1292.0 840.6M1300.0 865.4L1326.0 862.4M1314.0 877.6L1337.4 896.6M1337.4 896.6L1355.0 868.0M1366.0 856.6L1380.0 869.6M1238.0 898.0L1232.0 912.0M1243.4 893.4L1238.0 898.0M1103.0 907.4L1098.0 912.0" stroke="#3F86C9" stroke-opacity="0.42" stroke-width="0.9" fill="none"/>
<path d="M1102.0 848.0L1114.4 868.0M1102.0 848.0L1099.4 875.4M1114.4 868.0L1099.4 875.4M1099.4 875.4L1093.0 890.6M1138.4 856.4L1139.6 849.6M1138.4 816.4L1123.6 833.6M1137.0 865.6L1146.0 882.6M1121.0 874.6L1146.0 882.6M1121.0 874.6L1135.0 888.0M1144.0 887.2L1164.0 899.0M1164.0 899.0L1175.0 904.6M1193.6 860.0L1210.6 871.0M1210.6 871.0L1203.4 879.4M1189.0 890.0L1164.0 899.0M1210.6 871.0L1222.0 882.6M1209.0 884.4L1222.0 882.6M1233.0 889.4L1238.0 898.0M1194.0 803.6L1210.0 816.0M1194.0 803.6L1199.4 842.4M1277.0 863.0L1282.6 861.0M1300.0 865.4L1314.0 877.6M1355.0 868.0L1366.0 856.6M1366.0 856.6L1367.0 841.6M1160.0 903.0L1150.0 912.0M1220.0 900.6L1228.0 912.0M1194.0 838.4L1188.4 854.6" stroke="#3F86C9" stroke-opacity="0.51" stroke-width="0.9" fill="none"/>
<path d="M1139.6 849.6L1152.4 841.4M1152.4 841.4L1157.0 830.6M1138.4 816.4L1149.0 833.6M1121.0 874.6L1137.0 865.6M1180.6 862.0L1188.4 854.6M1203.0 843.4L1216.4 852.4M1199.4 842.4L1193.6 860.0M1203.0 843.4L1188.4 854.6M1203.4 879.4L1189.0 890.0M1222.0 882.6L1233.0 889.4M1233.0 889.4L1220.0 900.6M1314.0 877.6L1311.6 889.6M1301.4 883.0L1299.6 897.4" stroke="#3F86C9" stroke-opacity="0.59" stroke-width="0.9" fill="none"/>
<path d="M1138.4 816.4L1145.6 811.6M1138.4 816.4L1157.0 830.6M1149.0 833.6L1157.0 830.6M1121.0 874.6L1118.4 883.6M1118.4 883.6L1144.0 887.2M1146.0 882.6L1144.0 887.2M1162.4 873.0L1180.6 862.0M1180.6 862.0L1193.6 860.0M1188.4 854.6L1193.6 860.0M1194.0 838.4L1199.4 842.4M1199.4 842.4L1203.0 843.4M1193.6 860.0L1203.4 879.4M1203.4 879.4L1209.0 884.4M1300.0 865.4L1301.4 872.6M1301.4 872.6L1314.0 877.6M1314.0 877.6L1301.4 883.0M1311.6 889.6L1299.6 897.4M1279.0 904.4L1275.6 910.6M1299.6 897.4L1299.0 905.0M1289.0 899.6L1299.0 905.0" stroke="#3F86C9" stroke-opacity="0.68" stroke-width="0.9" fill="none"/>
<path d="M1299.6 897.4L1289.0 899.6M1289.0 899.6L1279.0 904.4" stroke="#3F86C9" stroke-opacity="0.77" stroke-width="0.9" fill="none"/>
<circle cx="1121.0" cy="773.0" r="0.9" fill="#8C8C8C" fill-opacity=".75"/>
<circle cx="1117.6" cy="777.4" r="0.9" fill="#8C8C8C" fill-opacity=".75"/>
<circle cx="1113.6" cy="785.0" r="0.9" fill="#8C8C8C" fill-opacity=".75"/>
<circle cx="1097.4" cy="799.6" r="0.9" fill="#8C8C8C" fill-opacity=".75"/>
<circle cx="1139.6" cy="790.0" r="0.9" fill="#8C8C8C" fill-opacity=".75"/>
<circle cx="1140.6" cy="796.0" r="0.9" fill="#8C8C8C" fill-opacity=".75"/>
<circle cx="1167.4" cy="811.4" r="0.9" fill="#8C8C8C" fill-opacity=".75"/>
<circle cx="1259.4" cy="781.0" r="0.9" fill="#8C8C8C" fill-opacity=".75"/>
<circle cx="1325.6" cy="784.4" r="0.9" fill="#8C8C8C" fill-opacity=".75"/>
<circle cx="1302.4" cy="794.4" r="0.9" fill="#8C8C8C" fill-opacity=".75"/>
<circle cx="1267.6" cy="799.6" r="0.9" fill="#8C8C8C" fill-opacity=".75"/>
<circle cx="1227.0" cy="825.4" r="0.9" fill="#8C8C8C" fill-opacity=".75"/>
<circle cx="1229.6" cy="850.0" r="0.9" fill="#8C8C8C" fill-opacity=".75"/>
<circle cx="1183.4" cy="837.4" r="0.9" fill="#8C8C8C" fill-opacity=".75"/>
<circle cx="1126.0" cy="846.0" r="0.9" fill="#8C8C8C" fill-opacity=".75"/>
<circle cx="1149.6" cy="866.0" r="0.9" fill="#8C8C8C" fill-opacity=".75"/>
<circle cx="1149.6" cy="872.0" r="0.9" fill="#8C8C8C" fill-opacity=".75"/>
<circle cx="1189.0" cy="873.4" r="0.9" fill="#8C8C8C" fill-opacity=".75"/>
<circle cx="1195.4" cy="866.6" r="0.9" fill="#8C8C8C" fill-opacity=".75"/>
<circle cx="1250.4" cy="865.0" r="0.9" fill="#8C8C8C" fill-opacity=".75"/>
<circle cx="1223.6" cy="871.0" r="0.9" fill="#8C8C8C" fill-opacity=".75"/>
<circle cx="1281.0" cy="882.0" r="0.9" fill="#8C8C8C" fill-opacity=".75"/>
<circle cx="1262.0" cy="888.6" r="0.9" fill="#8C8C8C" fill-opacity=".75"/>
<circle cx="1296.0" cy="833.0" r="0.9" fill="#8C8C8C" fill-opacity=".75"/>
<circle cx="1291.0" cy="833.0" r="0.9" fill="#8C8C8C" fill-opacity=".75"/>
<circle cx="1345.0" cy="861.6" r="0.9" fill="#8C8C8C" fill-opacity=".75"/>
<circle cx="1367.4" cy="778.0" r="0.9" fill="#8C8C8C" fill-opacity=".75"/>
<circle cx="1107.0" cy="887.6" r="0.9" fill="#8C8C8C" fill-opacity=".75"/>
<circle cx="1118.0" cy="900.0" r="0.9" fill="#8C8C8C" fill-opacity=".75"/>
<circle cx="1089.6" cy="900.0" r="0.9" fill="#8C8C8C" fill-opacity=".75"/>
<circle cx="1087.0" cy="878.0" r="0.9" fill="#8C8C8C" fill-opacity=".75"/>
<circle cx="1102.0" cy="848.0" r="2.14" fill="#1B4F88" stroke="#1B4F88" stroke-opacity=".35" stroke-width="1"/>
<circle cx="1114.4" cy="868.0" r="1.04" fill="#1B4F88" stroke="#1B4F88" stroke-opacity=".35" stroke-width="1"/>
<circle cx="1099.4" cy="875.4" r="1.22" fill="#1B4F88" stroke="#1B4F88" stroke-opacity=".35" stroke-width="1"/>
<circle cx="1093.0" cy="890.6" r="0.67" fill="#1B4F88" stroke="#1B4F88" stroke-opacity=".35" stroke-width="1"/>
<circle cx="1103.0" cy="907.4" r="1.22" fill="#1B4F88" stroke="#1B4F88" stroke-opacity=".35" stroke-width="1"/>
<circle cx="1145.6" cy="811.6" r="1.41" fill="#1B4F88" stroke="#1B4F88" stroke-opacity=".35" stroke-width="1"/>
<circle cx="1138.4" cy="816.4" r="1.59" fill="#1B4F88" stroke="#1B4F88" stroke-opacity=".35" stroke-width="1"/>
<circle cx="1135.6" cy="819.6" r="0.67" fill="#1B4F88" stroke="#1B4F88" stroke-opacity=".35" stroke-width="1"/>
<circle cx="1123.6" cy="833.6" r="0.67" fill="#1B4F88" stroke="#1B4F88" stroke-opacity=".35" stroke-width="1"/>
<circle cx="1149.0" cy="833.6" r="1.22" fill="#1B4F88" stroke="#1B4F88" stroke-opacity=".35" stroke-width="1"/>
<circle cx="1157.0" cy="830.6" r="1.77" fill="#1B4F88" stroke="#1B4F88" stroke-opacity=".35" stroke-width="1"/>
<circle cx="1152.4" cy="841.4" r="1.41" fill="#1B4F88" stroke="#1B4F88" stroke-opacity=".35" stroke-width="1"/>
<circle cx="1139.6" cy="849.6" r="0.85" fill="#1B4F88" stroke="#1B4F88" stroke-opacity=".35" stroke-width="1"/>
<circle cx="1138.4" cy="856.4" r="0.67" fill="#1B4F88" stroke="#1B4F88" stroke-opacity=".35" stroke-width="1"/>
<circle cx="1137.0" cy="865.6" r="1.04" fill="#1B4F88" stroke="#1B4F88" stroke-opacity=".35" stroke-width="1"/>
<circle cx="1121.0" cy="874.6" r="1.77" fill="#1B4F88" stroke="#1B4F88" stroke-opacity=".35" stroke-width="1"/>
<circle cx="1118.4" cy="883.6" r="1.77" fill="#1B4F88" stroke="#1B4F88" stroke-opacity=".35" stroke-width="1"/>
<circle cx="1146.0" cy="882.6" r="1.22" fill="#1B4F88" stroke="#1B4F88" stroke-opacity=".35" stroke-width="1"/>
<circle cx="1144.0" cy="887.2" r="1.59" fill="#1B4F88" stroke="#1B4F88" stroke-opacity=".35" stroke-width="1"/>
<circle cx="1135.0" cy="888.0" r="0.85" fill="#1B4F88" stroke="#1B4F88" stroke-opacity=".35" stroke-width="1"/>
<circle cx="1162.4" cy="873.0" r="1.41" fill="#1B4F88" stroke="#1B4F88" stroke-opacity=".35" stroke-width="1"/>
<circle cx="1164.0" cy="899.0" r="0.85" fill="#1B4F88" stroke="#1B4F88" stroke-opacity=".35" stroke-width="1"/>
<circle cx="1160.0" cy="903.0" r="1.59" fill="#1B4F88" stroke="#1B4F88" stroke-opacity=".35" stroke-width="1"/>
<circle cx="1175.0" cy="904.6" r="0.85" fill="#1B4F88" stroke="#1B4F88" stroke-opacity=".35" stroke-width="1"/>
<circle cx="1189.6" cy="905.2" r="1.22" fill="#1B4F88" stroke="#1B4F88" stroke-opacity=".35" stroke-width="1"/>
<circle cx="1198.4" cy="904.6" r="1.59" fill="#1B4F88" stroke="#1B4F88" stroke-opacity=".35" stroke-width="1"/>
<circle cx="1189.0" cy="890.0" r="0.85" fill="#1B4F88" stroke="#1B4F88" stroke-opacity=".35" stroke-width="1"/>
<circle cx="1194.0" cy="803.6" r="1.04" fill="#1B4F88" stroke="#1B4F88" stroke-opacity=".35" stroke-width="1"/>
<circle cx="1210.0" cy="816.0" r="0.67" fill="#1B4F88" stroke="#1B4F88" stroke-opacity=".35" stroke-width="1"/>
<circle cx="1194.0" cy="838.4" r="1.41" fill="#1B4F88" stroke="#1B4F88" stroke-opacity=".35" stroke-width="1"/>
<circle cx="1199.4" cy="842.4" r="1.22" fill="#1B4F88" stroke="#1B4F88" stroke-opacity=".35" stroke-width="1"/>
<circle cx="1203.0" cy="843.4" r="1.41" fill="#1B4F88" stroke="#1B4F88" stroke-opacity=".35" stroke-width="1"/>
<circle cx="1216.4" cy="852.4" r="1.41" fill="#1B4F88" stroke="#1B4F88" stroke-opacity=".35" stroke-width="1"/>
<circle cx="1188.4" cy="854.6" r="1.77" fill="#1B4F88" stroke="#1B4F88" stroke-opacity=".35" stroke-width="1"/>
<circle cx="1193.6" cy="860.0" r="1.77" fill="#1B4F88" stroke="#1B4F88" stroke-opacity=".35" stroke-width="1"/>
<circle cx="1180.6" cy="862.0" r="1.04" fill="#1B4F88" stroke="#1B4F88" stroke-opacity=".35" stroke-width="1"/>
<circle cx="1210.6" cy="871.0" r="1.04" fill="#1B4F88" stroke="#1B4F88" stroke-opacity=".35" stroke-width="1"/>
<circle cx="1203.4" cy="879.4" r="1.59" fill="#1B4F88" stroke="#1B4F88" stroke-opacity=".35" stroke-width="1"/>
<circle cx="1209.0" cy="884.4" r="1.59" fill="#1B4F88" stroke="#1B4F88" stroke-opacity=".35" stroke-width="1"/>
<circle cx="1222.0" cy="882.6" r="0.67" fill="#1B4F88" stroke="#1B4F88" stroke-opacity=".35" stroke-width="1"/>
<circle cx="1233.0" cy="889.4" r="0.85" fill="#1B4F88" stroke="#1B4F88" stroke-opacity=".35" stroke-width="1"/>
<circle cx="1220.0" cy="900.6" r="1.41" fill="#1B4F88" stroke="#1B4F88" stroke-opacity=".35" stroke-width="1"/>
<circle cx="1238.0" cy="898.0" r="0.67" fill="#1B4F88" stroke="#1B4F88" stroke-opacity=".35" stroke-width="1"/>
<circle cx="1243.4" cy="893.4" r="2.14" fill="#1B4F88" stroke="#1B4F88" stroke-opacity=".35" stroke-width="1"/>
<circle cx="1261.6" cy="871.2" r="1.41" fill="#1B4F88" stroke="#1B4F88" stroke-opacity=".35" stroke-width="1"/>
<circle cx="1273.4" cy="849.0" r="0.67" fill="#1B4F88" stroke="#1B4F88" stroke-opacity=".35" stroke-width="1"/>
<circle cx="1277.0" cy="863.0" r="0.85" fill="#1B4F88" stroke="#1B4F88" stroke-opacity=".35" stroke-width="1"/>
<circle cx="1282.6" cy="861.0" r="0.67" fill="#1B4F88" stroke="#1B4F88" stroke-opacity=".35" stroke-width="1"/>
<circle cx="1289.4" cy="872.0" r="1.96" fill="#1B4F88" stroke="#1B4F88" stroke-opacity=".35" stroke-width="1"/>
<circle cx="1292.0" cy="840.6" r="1.04" fill="#1B4F88" stroke="#1B4F88" stroke-opacity=".35" stroke-width="1"/>
<circle cx="1300.6" cy="817.4" r="1.41" fill="#1B4F88" stroke="#1B4F88" stroke-opacity=".35" stroke-width="1"/>
<circle cx="1300.0" cy="865.4" r="1.59" fill="#1B4F88" stroke="#1B4F88" stroke-opacity=".35" stroke-width="1"/>
<circle cx="1301.4" cy="872.6" r="2.14" fill="#1B4F88" stroke="#1B4F88" stroke-opacity=".35" stroke-width="1"/>
<circle cx="1314.0" cy="877.6" r="2.33" fill="#1B4F88" stroke="#1B4F88" stroke-opacity=".35" stroke-width="1"/>
<circle cx="1316.6" cy="876.8" r="1.77" fill="#1B4F88" stroke="#1B4F88" stroke-opacity=".35" stroke-width="1"/>
<circle cx="1301.4" cy="883.0" r="1.77" fill="#1B4F88" stroke="#1B4F88" stroke-opacity=".35" stroke-width="1"/>
<circle cx="1311.6" cy="889.6" r="1.77" fill="#1B4F88" stroke="#1B4F88" stroke-opacity=".35" stroke-width="1"/>
<circle cx="1299.6" cy="897.4" r="2.33" fill="#1B4F88" stroke="#1B4F88" stroke-opacity=".35" stroke-width="1"/>
<circle cx="1289.0" cy="899.6" r="1.96" fill="#1B4F88" stroke="#1B4F88" stroke-opacity=".35" stroke-width="1"/>
<circle cx="1279.0" cy="904.4" r="1.59" fill="#1B4F88" stroke="#1B4F88" stroke-opacity=".35" stroke-width="1"/>
<circle cx="1299.0" cy="905.0" r="1.96" fill="#1B4F88" stroke="#1B4F88" stroke-opacity=".35" stroke-width="1"/>
<circle cx="1301.6" cy="904.6" r="1.59" fill="#1B4F88" stroke="#1B4F88" stroke-opacity=".35" stroke-width="1"/>
<circle cx="1275.6" cy="910.6" r="1.59" fill="#1B4F88" stroke="#1B4F88" stroke-opacity=".35" stroke-width="1"/>
<circle cx="1326.0" cy="862.4" r="1.77" fill="#1B4F88" stroke="#1B4F88" stroke-opacity=".35" stroke-width="1"/>
<circle cx="1355.0" cy="868.0" r="1.77" fill="#1B4F88" stroke="#1B4F88" stroke-opacity=".35" stroke-width="1"/>
<circle cx="1356.0" cy="871.6" r="0.85" fill="#1B4F88" stroke="#1B4F88" stroke-opacity=".35" stroke-width="1"/>
<circle cx="1337.4" cy="896.6" r="1.96" fill="#1B4F88" stroke="#1B4F88" stroke-opacity=".35" stroke-width="1"/>
<circle cx="1335.4" cy="903.0" r="0.85" fill="#1B4F88" stroke="#1B4F88" stroke-opacity=".35" stroke-width="1"/>
<circle cx="1366.0" cy="856.6" r="1.96" fill="#1B4F88" stroke="#1B4F88" stroke-opacity=".35" stroke-width="1"/>
<circle cx="1367.0" cy="841.6" r="1.77" fill="#1B4F88" stroke="#1B4F88" stroke-opacity=".35" stroke-width="1"/>
<circle cx="1380.0" cy="869.6" r="1.59" fill="#1B4F88" stroke="#1B4F88" stroke-opacity=".35" stroke-width="1"/>
<circle cx="1416.0" cy="894.0" r="1.8" fill="#1a2530"/>
<circle cx="1320.0" cy="844.0" r="1.5" fill="#3a4650"/>
<circle cx="1194.4" cy="875.0" r="1.4" fill="#4a5560"/>
</g>
<g id="chart">
<path d="M662.54 283.54A280.37 267.40 0 1 1 585.36 434.47L624.32 439.50A241.05 229.90 0 1 0 690.68 309.73Z" fill="#254B6B"/>
<path d="M522.37 402.50A280.37 267.40 0 0 1 597.10 256.36L625.53 282.27A241.05 229.90 0 0 0 561.27 407.91Z" fill="#70AD47"/>
<path d="M1044.46 372.62A211.80 202.00 0 1 1 858.82 270.40L859.17 318.40A161.47 154.00 0 1 0 1000.70 396.33Z" fill="#70AD47"/>
<path d="M867.28 261.30A211.80 202.00 0 0 1 1048.48 361.08L1005.07 385.37A161.47 154.00 0 0 0 866.93 309.30Z" fill="#4472C4"/>
</g>
<g id="labels">
<text><tspan x="61.38" y="130.5" font-size="89.1" fill="#22406A" font-weight="bold" textLength="66.22" lengthAdjust="spacingAndGlyphs">N</tspan><tspan x="127.92" y="130.5" font-size="89.1" fill="#22406A" font-weight="bold" textLength="58.73" lengthAdjust="spacingAndGlyphs">o</tspan><tspan x="184.73" y="130.5" font-size="89.1" fill="#22406A" font-weight="bold" textLength="40.20" lengthAdjust="spacingAndGlyphs">s</tspan> <tspan x="246.96" y="130.5" font-size="89.1" fill="#22406A" font-weight="bold" textLength="63.94" lengthAdjust="spacingAndGlyphs">p</tspan><tspan x="302.90" y="130.5" font-size="89.1" fill="#22406A" font-weight="bold" textLength="35.12" lengthAdjust="spacingAndGlyphs">r</tspan><tspan x="337.33" y="130.5" font-size="89.1" fill="#22406A" font-weight="bold" textLength="55.37" lengthAdjust="spacingAndGlyphs">o</tspan><tspan x="392.91" y="130.5" font-size="89.1" fill="#22406A" font-weight="bold" textLength="28.27" lengthAdjust="spacingAndGlyphs">j</tspan><tspan x="418.52" y="130.5" font-size="89.1" fill="#22406A" font-weight="bold" textLength="50.83" lengthAdjust="spacingAndGlyphs">e</tspan><tspan x="470.04" y="130.5" font-size="89.1" fill="#22406A" font-weight="bold" textLength="33.98" lengthAdjust="spacingAndGlyphs">t</tspan><tspan x="506.05" y="130.5" font-size="89.1" fill="#22406A" font-weight="bold" textLength="40.20" lengthAdjust="spacingAndGlyphs">s</tspan></text>
<text><tspan x="433.45" y="282.7" font-size="32.7" fill="#70AD47" font-weight="bold" textLength="41.59" lengthAdjust="spacingAndGlyphs">10</tspan> <tspan x="482.16" y="282.7" font-size="25.0" fill="#70AD47" font-weight="bold" textLength="24.38" lengthAdjust="spacingAndGlyphs">%</tspan> <tspan x="441.36" y="310.6" font-size="19.1" fill="#70AD47" font-weight="normal" textLength="23.85" lengthAdjust="spacingAndGlyphs" stroke="#fff" stroke-width="0.25">du</tspan> <tspan x="471.86" y="310.6" font-size="19.1" fill="#70AD47" font-weight="normal" textLength="26.23" lengthAdjust="spacingAndGlyphs" stroke="#fff" stroke-width="0.25">CA</tspan> <tspan x="431.68" y="334.8" font-size="19.1" fill="#70AD47" font-weight="normal" textLength="59.29" lengthAdjust="spacingAndGlyphs" stroke="#fff" stroke-width="0.25">réalisé</tspan> <tspan x="496.95" y="334.8" font-size="19.1" fill="#70AD47" font-weight="normal" textLength="9.50" lengthAdjust="spacingAndGlyphs" stroke="#fff" stroke-width="0.25">à</tspan> <tspan x="424.85" y="359.0" font-size="19.1" fill="#70AD47" font-weight="normal" textLength="88.91" lengthAdjust="spacingAndGlyphs" stroke="#fff" stroke-width="0.25">l’étranger</tspan></text>
<text><tspan x="877.47" y="368.3" font-size="33" fill="#31859C" font-weight="bold" textLength="39.51" lengthAdjust="spacingAndGlyphs">15</tspan><tspan x="917.91" y="368.3" font-size="25.5" fill="#31859C" font-weight="bold" textLength="23.26" lengthAdjust="spacingAndGlyphs">%</tspan> <tspan x="858.12" y="395.7" font-size="19.1" fill="#31859C" font-weight="normal" textLength="50.06" lengthAdjust="spacingAndGlyphs" stroke="#fff" stroke-width="0.25">Reste</tspan> <tspan x="914.69" y="395.7" font-size="19.1" fill="#31859C" font-weight="normal" textLength="23.57" lengthAdjust="spacingAndGlyphs" stroke="#fff" stroke-width="0.25">de</tspan> <tspan x="943.41" y="395.7" font-size="19.1" fill="#31859C" font-weight="normal" textLength="15.79" lengthAdjust="spacingAndGlyphs" stroke="#fff" stroke-width="0.25">la</tspan> <tspan x="878.62" y="420.2" font-size="19.1" fill="#31859C" font-weight="normal" textLength="61.55" lengthAdjust="spacingAndGlyphs" stroke="#fff" stroke-width="0.25">France</tspan></text>
<text><tspan x="813.81" y="528.5" font-size="33" fill="#70AD47" font-weight="bold" textLength="42.16" lengthAdjust="spacingAndGlyphs">75</tspan><tspan x="855.56" y="528.5" font-size="25.5" fill="#70AD47" font-weight="bold" textLength="23.67" lengthAdjust="spacingAndGlyphs">%</tspan> <tspan x="813.90" y="555.6" font-size="19.1" fill="#70AD47" font-weight="normal" textLength="43.56" lengthAdjust="spacingAndGlyphs" stroke="#fff" stroke-width="0.25">dans</tspan> <tspan x="863.93" y="555.6" font-size="19.1" fill="#70AD47" font-weight="normal" textLength="16.32" lengthAdjust="spacingAndGlyphs" stroke="#fff" stroke-width="0.25">le</tspan> <tspan x="814.34" y="579.8" font-size="19.1" fill="#70AD47" font-weight="normal" textLength="65.11" lengthAdjust="spacingAndGlyphs" stroke="#fff" stroke-width="0.25">Grand-</tspan> <tspan x="819.36" y="604.1" font-size="19.1" fill="#70AD47" font-weight="normal" textLength="54.99" lengthAdjust="spacingAndGlyphs" stroke="#fff" stroke-width="0.25">Ouest</tspan></text>
<text><tspan x="1217.92" y="425.6" font-size="33" fill="#254B6B" font-weight="bold" textLength="42.22" lengthAdjust="spacingAndGlyphs">90</tspan> <tspan x="1269.76" y="425.6" font-size="33" fill="#254B6B" font-weight="bold" textLength="28.68" lengthAdjust="spacingAndGlyphs">%</tspan> <tspan x="1177.69" y="459.1" font-size="25.5" fill="#254B6B" font-weight="normal" textLength="32.12" lengthAdjust="spacingAndGlyphs" stroke="#fff" stroke-width="0.25">du</tspan> <tspan x="1217.70" y="459.1" font-size="25.5" fill="#254B6B" font-weight="normal" textLength="34.80" lengthAdjust="spacingAndGlyphs" stroke="#fff" stroke-width="0.25">CA</tspan> <tspan x="1261.42" y="459.1" font-size="25.5" fill="#254B6B" font-weight="normal" textLength="78.45" lengthAdjust="spacingAndGlyphs" stroke="#fff" stroke-width="0.25">réalisé</tspan> <tspan x="1199.39" y="491.3" font-size="25.5" fill="#254B6B" font-weight="normal" textLength="30.41" lengthAdjust="spacingAndGlyphs" stroke="#fff" stroke-width="0.25">en</tspan> <tspan x="1237.61" y="491.3" font-size="25.5" fill="#254B6B" font-weight="normal" textLength="80.42" lengthAdjust="spacingAndGlyphs" stroke="#fff" stroke-width="0.25">France</tspan></text>
</g>
</svg>
<div style="position:absolute;left:4px;top:908px;width:1690px;height:1px;background:#fafafa"></div>
<div style="position:absolute;left:3px;top:909px;width:1692px;height:1px;background:#e2e2e2"></div>
<div style="position:absolute;left:2px;top:910px;width:1694px;height:1px;background:#aaa"></div>
<div style="position:absolute;left:2px;top:911px;width:1695px;height:1px;background:#888"></div>
<div style="position:absolute;left:1696px;top:3px;width:1px;height:903px;background:#fbfbfb"></div>
<div style="position:absolute;left:1697px;top:2px;width:1px;height:905px;background:#e8e8e8"></div>
<div style="position:absolute;left:1698px;top:1px;width:1px;height:907px;background:#c2c2c2"></div>
<div style="position:absolute;left:1699px;top:1px;width:1px;height:908px;background:#a4a4a4"></div>
</body></html>
